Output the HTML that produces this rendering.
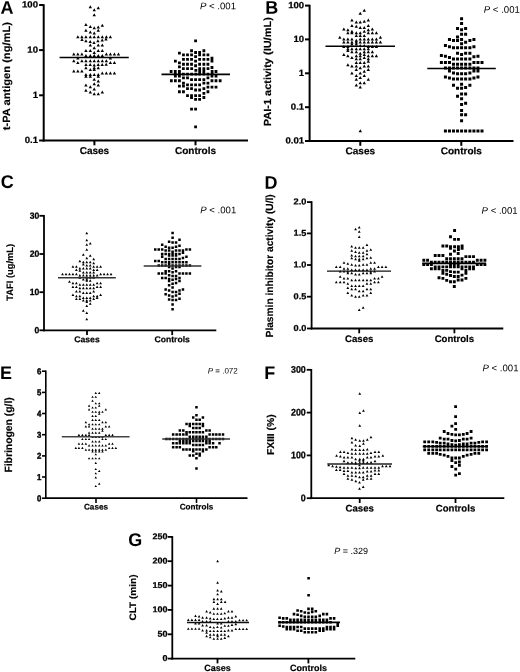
<!DOCTYPE html><html><head><meta charset="utf-8"><title>Figure</title><style>html,body{margin:0;padding:0;background:#fff;}body{width:520px;height:672px;overflow:hidden;}svg{display:block;font-family:"Liberation Sans", sans-serif;text-rendering:geometricPrecision;will-change:transform;}</style></head><body>
<svg width="520" height="672" viewBox="0 0 520 672">
<rect width="520" height="672" fill="#fff"/>
<g fill="#000">
<text transform="translate(0.50 13.65) rotate(0.05) scale(1 1.02)" font-size="18.0" font-weight="bold" font-style="normal" text-anchor="start">A</text>
<line x1="43.70" y1="4.20" x2="43.70" y2="141.50" stroke="#000" stroke-width="2.0"/>
<line x1="42.70" y1="140.50" x2="248.00" y2="140.50" stroke="#000" stroke-width="2.0"/>
<line x1="39.10" y1="5.00" x2="43.70" y2="5.00" stroke="#000" stroke-width="2.0"/>
<text transform="translate(38.00 7.59) rotate(0.05) scale(1 0.95)" font-size="9.6" font-weight="bold" font-style="normal" text-anchor="end" stroke="#000" stroke-width="0.25">100</text>
<line x1="39.10" y1="50.10" x2="43.70" y2="50.10" stroke="#000" stroke-width="2.0"/>
<text transform="translate(38.00 52.69) rotate(0.05) scale(1 0.95)" font-size="9.6" font-weight="bold" font-style="normal" text-anchor="end" stroke="#000" stroke-width="0.25">10</text>
<line x1="39.10" y1="95.30" x2="43.70" y2="95.30" stroke="#000" stroke-width="2.0"/>
<text transform="translate(38.00 97.89) rotate(0.05) scale(1 0.95)" font-size="9.6" font-weight="bold" font-style="normal" text-anchor="end" stroke="#000" stroke-width="0.25">1</text>
<line x1="39.10" y1="140.50" x2="43.70" y2="140.50" stroke="#000" stroke-width="2.0"/>
<text transform="translate(38.00 143.09) rotate(0.05) scale(1 0.95)" font-size="9.6" font-weight="bold" font-style="normal" text-anchor="end" stroke="#000" stroke-width="0.25">0.1</text>
<line x1="94.40" y1="140.50" x2="94.40" y2="145.30" stroke="#000" stroke-width="2.0"/>
<text transform="translate(94.40 154.00) rotate(0.05) scale(1 1.0)" font-size="10" font-weight="bold" font-style="normal" text-anchor="middle" stroke="#000" stroke-width="0.2">Cases</text>
<line x1="195.50" y1="140.50" x2="195.50" y2="145.30" stroke="#000" stroke-width="2.0"/>
<text transform="translate(195.50 154.00) rotate(0.05) scale(1 1.0)" font-size="10" font-weight="bold" font-style="normal" text-anchor="middle" stroke="#000" stroke-width="0.2">Controls</text>
<text x="9.80" y="76.15" font-size="10.5" font-weight="bold" font-style="normal" text-anchor="middle" transform="rotate(-90 9.80 76.15)" textLength="108.30" lengthAdjust="spacingAndGlyphs" stroke="#000" stroke-width="0.15">t-PA antigen (ng/mL)</text>
<text transform="translate(200.00 9.20) rotate(0.05) scale(1 1.0)" font-size="9.6" font-weight="normal"><tspan font-style="italic">P</tspan> &lt; .001</text>
<text transform="translate(265.30 13.65) rotate(0.05) scale(1 1.02)" font-size="18.0" font-weight="bold" font-style="normal" text-anchor="start">B</text>
<line x1="309.60" y1="4.80" x2="309.60" y2="142.00" stroke="#000" stroke-width="2.0"/>
<line x1="308.60" y1="141.00" x2="513.50" y2="141.00" stroke="#000" stroke-width="2.0"/>
<line x1="305.00" y1="5.60" x2="309.60" y2="5.60" stroke="#000" stroke-width="2.0"/>
<text transform="translate(304.20 8.19) rotate(0.05) scale(1 0.95)" font-size="9.6" font-weight="bold" font-style="normal" text-anchor="end" stroke="#000" stroke-width="0.25">100</text>
<line x1="305.00" y1="39.40" x2="309.60" y2="39.40" stroke="#000" stroke-width="2.0"/>
<text transform="translate(304.20 41.99) rotate(0.05) scale(1 0.95)" font-size="9.6" font-weight="bold" font-style="normal" text-anchor="end" stroke="#000" stroke-width="0.25">10</text>
<line x1="305.00" y1="73.30" x2="309.60" y2="73.30" stroke="#000" stroke-width="2.0"/>
<text transform="translate(304.20 75.89) rotate(0.05) scale(1 0.95)" font-size="9.6" font-weight="bold" font-style="normal" text-anchor="end" stroke="#000" stroke-width="0.25">1</text>
<line x1="305.00" y1="107.20" x2="309.60" y2="107.20" stroke="#000" stroke-width="2.0"/>
<text transform="translate(304.20 109.79) rotate(0.05) scale(1 0.95)" font-size="9.6" font-weight="bold" font-style="normal" text-anchor="end" stroke="#000" stroke-width="0.25">0.1</text>
<line x1="305.00" y1="141.00" x2="309.60" y2="141.00" stroke="#000" stroke-width="2.0"/>
<text transform="translate(304.20 143.59) rotate(0.05) scale(1 0.95)" font-size="9.6" font-weight="bold" font-style="normal" text-anchor="end" stroke="#000" stroke-width="0.25">0.01</text>
<line x1="360.30" y1="141.00" x2="360.30" y2="145.80" stroke="#000" stroke-width="2.0"/>
<text transform="translate(360.30 154.30) rotate(0.05) scale(1 1.0)" font-size="10" font-weight="bold" font-style="normal" text-anchor="middle" stroke="#000" stroke-width="0.2">Cases</text>
<line x1="461.30" y1="141.00" x2="461.30" y2="145.80" stroke="#000" stroke-width="2.0"/>
<text transform="translate(461.30 154.30) rotate(0.05) scale(1 1.0)" font-size="10" font-weight="bold" font-style="normal" text-anchor="middle" stroke="#000" stroke-width="0.2">Controls</text>
<text x="271.30" y="71.70" font-size="10.3" font-weight="bold" font-style="normal" text-anchor="middle" transform="rotate(-90 271.30 71.70)" textLength="109.00" lengthAdjust="spacingAndGlyphs" stroke="#000" stroke-width="0.15">PAI-1 activity (IU/mL)</text>
<text transform="translate(483.80 12.70) rotate(0.05) scale(1 1.0)" font-size="9.6" font-weight="normal"><tspan font-style="italic">P</tspan> &lt; .001</text>
<text transform="translate(0.80 187.95) rotate(0.05) scale(1 1.02)" font-size="18.0" font-weight="bold" font-style="normal" text-anchor="start">C</text>
<line x1="44.00" y1="215.00" x2="44.00" y2="331.20" stroke="#000" stroke-width="1.8"/>
<line x1="43.10" y1="330.30" x2="216.30" y2="330.30" stroke="#000" stroke-width="1.8"/>
<line x1="39.40" y1="215.80" x2="44.00" y2="215.80" stroke="#000" stroke-width="1.8"/>
<text transform="translate(39.30 218.64) rotate(0.05) scale(1 1.05)" font-size="8.6" font-weight="bold" font-style="normal" text-anchor="end" stroke="#000" stroke-width="0.25">30</text>
<line x1="39.40" y1="254.00" x2="44.00" y2="254.00" stroke="#000" stroke-width="1.8"/>
<text transform="translate(39.30 256.84) rotate(0.05) scale(1 1.05)" font-size="8.6" font-weight="bold" font-style="normal" text-anchor="end" stroke="#000" stroke-width="0.25">20</text>
<line x1="39.40" y1="292.20" x2="44.00" y2="292.20" stroke="#000" stroke-width="1.8"/>
<text transform="translate(39.30 295.04) rotate(0.05) scale(1 1.05)" font-size="8.6" font-weight="bold" font-style="normal" text-anchor="end" stroke="#000" stroke-width="0.25">10</text>
<line x1="39.40" y1="330.30" x2="44.00" y2="330.30" stroke="#000" stroke-width="1.8"/>
<text transform="translate(39.30 333.14) rotate(0.05) scale(1 1.05)" font-size="8.6" font-weight="bold" font-style="normal" text-anchor="end" stroke="#000" stroke-width="0.25">0</text>
<line x1="87.00" y1="330.30" x2="87.00" y2="335.10" stroke="#000" stroke-width="1.8"/>
<text transform="translate(87.00 342.20) rotate(0.05) scale(1 1.0)" font-size="8.6" font-weight="bold" font-style="normal" text-anchor="middle" stroke="#000" stroke-width="0.2">Cases</text>
<line x1="172.20" y1="330.30" x2="172.20" y2="335.10" stroke="#000" stroke-width="1.8"/>
<text transform="translate(172.20 342.20) rotate(0.05) scale(1 1.0)" font-size="8.6" font-weight="bold" font-style="normal" text-anchor="middle" stroke="#000" stroke-width="0.2">Controls</text>
<text x="13.20" y="272.30" font-size="9.3" font-weight="bold" font-style="normal" text-anchor="middle" transform="rotate(-90 13.20 272.30)" textLength="56.80" lengthAdjust="spacingAndGlyphs" stroke="#000" stroke-width="0.15">TAFI (ug/mL)</text>
<text transform="translate(200.20 213.20) rotate(0.05) scale(1 1.0)" font-size="9.6" font-weight="normal"><tspan font-style="italic">P</tspan> &lt; .001</text>
<text transform="translate(264.40 188.65) rotate(0.05) scale(1 1.02)" font-size="18.0" font-weight="bold" font-style="normal" text-anchor="start">D</text>
<line x1="311.60" y1="201.20" x2="311.60" y2="329.40" stroke="#000" stroke-width="1.8"/>
<line x1="310.70" y1="328.50" x2="503.30" y2="328.50" stroke="#000" stroke-width="1.8"/>
<line x1="307.00" y1="202.10" x2="311.60" y2="202.10" stroke="#000" stroke-width="1.8"/>
<text transform="translate(306.30 204.58) rotate(0.05) scale(1 0.95)" font-size="9.2" font-weight="bold" font-style="normal" text-anchor="end" stroke="#000" stroke-width="0.25">2.0</text>
<line x1="307.00" y1="233.40" x2="311.60" y2="233.40" stroke="#000" stroke-width="1.8"/>
<text transform="translate(306.30 235.88) rotate(0.05) scale(1 0.95)" font-size="9.2" font-weight="bold" font-style="normal" text-anchor="end" stroke="#000" stroke-width="0.25">1.5</text>
<line x1="307.00" y1="265.00" x2="311.60" y2="265.00" stroke="#000" stroke-width="1.8"/>
<text transform="translate(306.30 267.48) rotate(0.05) scale(1 0.95)" font-size="9.2" font-weight="bold" font-style="normal" text-anchor="end" stroke="#000" stroke-width="0.25">1.0</text>
<line x1="307.00" y1="296.70" x2="311.60" y2="296.70" stroke="#000" stroke-width="1.8"/>
<text transform="translate(306.30 299.18) rotate(0.05) scale(1 0.95)" font-size="9.2" font-weight="bold" font-style="normal" text-anchor="end" stroke="#000" stroke-width="0.25">0.5</text>
<line x1="307.00" y1="328.50" x2="311.60" y2="328.50" stroke="#000" stroke-width="1.8"/>
<text transform="translate(306.30 330.98) rotate(0.05) scale(1 0.95)" font-size="9.2" font-weight="bold" font-style="normal" text-anchor="end" stroke="#000" stroke-width="0.25">0.0</text>
<line x1="359.20" y1="328.50" x2="359.20" y2="333.30" stroke="#000" stroke-width="1.8"/>
<text transform="translate(359.20 341.90) rotate(0.05) scale(1 1.0)" font-size="9.6" font-weight="bold" font-style="normal" text-anchor="middle" stroke="#000" stroke-width="0.2">Cases</text>
<line x1="454.40" y1="328.50" x2="454.40" y2="333.30" stroke="#000" stroke-width="1.8"/>
<text transform="translate(454.40 341.90) rotate(0.05) scale(1 1.0)" font-size="9.6" font-weight="bold" font-style="normal" text-anchor="middle" stroke="#000" stroke-width="0.2">Controls</text>
<text x="272.70" y="265.85" font-size="10.3" font-weight="bold" font-style="normal" text-anchor="middle" transform="rotate(-90 272.70 265.85)" textLength="143.10" lengthAdjust="spacingAndGlyphs" stroke="#000" stroke-width="0.15">Plasmin inhibitor activity (U/l)</text>
<text transform="translate(481.60 213.80) rotate(0.05) scale(1 1.0)" font-size="9.6" font-weight="normal"><tspan font-style="italic">P</tspan> &lt; .001</text>
<text transform="translate(-0.10 378.95) rotate(0.05) scale(1 1.02)" font-size="18.0" font-weight="bold" font-style="normal" text-anchor="start">E</text>
<line x1="45.80" y1="370.60" x2="45.80" y2="498.90" stroke="#000" stroke-width="1.6"/>
<line x1="45.00" y1="498.10" x2="247.50" y2="498.10" stroke="#000" stroke-width="1.6"/>
<line x1="42.00" y1="371.20" x2="45.80" y2="371.20" stroke="#000" stroke-width="1.6"/>
<text transform="translate(41.40 374.16) rotate(0.05) scale(1 1.1)" font-size="7.8" font-weight="bold" font-style="normal" text-anchor="end" stroke="#000" stroke-width="0.4">6</text>
<line x1="42.00" y1="392.40" x2="45.80" y2="392.40" stroke="#000" stroke-width="1.6"/>
<text transform="translate(41.40 395.36) rotate(0.05) scale(1 1.1)" font-size="7.8" font-weight="bold" font-style="normal" text-anchor="end" stroke="#000" stroke-width="0.4">5</text>
<line x1="42.00" y1="413.50" x2="45.80" y2="413.50" stroke="#000" stroke-width="1.6"/>
<text transform="translate(41.40 416.46) rotate(0.05) scale(1 1.1)" font-size="7.8" font-weight="bold" font-style="normal" text-anchor="end" stroke="#000" stroke-width="0.4">4</text>
<line x1="42.00" y1="434.70" x2="45.80" y2="434.70" stroke="#000" stroke-width="1.6"/>
<text transform="translate(41.40 437.66) rotate(0.05) scale(1 1.1)" font-size="7.8" font-weight="bold" font-style="normal" text-anchor="end" stroke="#000" stroke-width="0.4">3</text>
<line x1="42.00" y1="455.90" x2="45.80" y2="455.90" stroke="#000" stroke-width="1.6"/>
<text transform="translate(41.40 458.86) rotate(0.05) scale(1 1.1)" font-size="7.8" font-weight="bold" font-style="normal" text-anchor="end" stroke="#000" stroke-width="0.4">2</text>
<line x1="42.00" y1="477.00" x2="45.80" y2="477.00" stroke="#000" stroke-width="1.6"/>
<text transform="translate(41.40 479.96) rotate(0.05) scale(1 1.1)" font-size="7.8" font-weight="bold" font-style="normal" text-anchor="end" stroke="#000" stroke-width="0.4">1</text>
<line x1="42.00" y1="498.20" x2="45.80" y2="498.20" stroke="#000" stroke-width="1.6"/>
<text transform="translate(41.40 501.16) rotate(0.05) scale(1 1.1)" font-size="7.8" font-weight="bold" font-style="normal" text-anchor="end" stroke="#000" stroke-width="0.4">0</text>
<line x1="96.00" y1="498.10" x2="96.00" y2="502.90" stroke="#000" stroke-width="1.6"/>
<text transform="translate(96.00 509.40) rotate(0.05) scale(1 1.0)" font-size="8.2" font-weight="bold" font-style="normal" text-anchor="middle" stroke="#000" stroke-width="0.2">Cases</text>
<line x1="196.50" y1="498.10" x2="196.50" y2="502.90" stroke="#000" stroke-width="1.6"/>
<text transform="translate(196.50 509.40) rotate(0.05) scale(1 1.0)" font-size="8.2" font-weight="bold" font-style="normal" text-anchor="middle" stroke="#000" stroke-width="0.2">Controls</text>
<text x="11.80" y="434.90" font-size="10.5" font-weight="bold" font-style="normal" text-anchor="middle" transform="rotate(-90 11.80 434.90)" textLength="75.40" lengthAdjust="spacingAndGlyphs" stroke="#000" stroke-width="0.15">Fibrinogen (g/l)</text>
<text transform="translate(207.70 373.40) rotate(0.05) scale(1 1.0)" font-size="8.0" font-weight="normal"><tspan font-style="italic">P</tspan> = .072</text>
<text transform="translate(264.20 378.95) rotate(0.05) scale(1 1.02)" font-size="18.0" font-weight="bold" font-style="normal" text-anchor="start">F</text>
<line x1="311.30" y1="369.00" x2="311.30" y2="499.10" stroke="#000" stroke-width="1.8"/>
<line x1="310.40" y1="498.20" x2="504.30" y2="498.20" stroke="#000" stroke-width="1.8"/>
<line x1="306.70" y1="369.80" x2="311.30" y2="369.80" stroke="#000" stroke-width="1.8"/>
<text transform="translate(305.80 372.74) rotate(0.05) scale(1 1.08)" font-size="8.9" font-weight="bold" font-style="normal" text-anchor="end" stroke="#000" stroke-width="0.25">300</text>
<line x1="306.70" y1="412.60" x2="311.30" y2="412.60" stroke="#000" stroke-width="1.8"/>
<text transform="translate(305.80 415.54) rotate(0.05) scale(1 1.08)" font-size="8.9" font-weight="bold" font-style="normal" text-anchor="end" stroke="#000" stroke-width="0.25">200</text>
<line x1="306.70" y1="455.40" x2="311.30" y2="455.40" stroke="#000" stroke-width="1.8"/>
<text transform="translate(305.80 458.34) rotate(0.05) scale(1 1.08)" font-size="8.9" font-weight="bold" font-style="normal" text-anchor="end" stroke="#000" stroke-width="0.25">100</text>
<line x1="306.70" y1="498.20" x2="311.30" y2="498.20" stroke="#000" stroke-width="1.8"/>
<text transform="translate(305.80 501.14) rotate(0.05) scale(1 1.08)" font-size="8.9" font-weight="bold" font-style="normal" text-anchor="end" stroke="#000" stroke-width="0.25">0</text>
<line x1="359.70" y1="498.20" x2="359.70" y2="503.00" stroke="#000" stroke-width="1.8"/>
<text transform="translate(359.70 511.50) rotate(0.05) scale(1 1.0)" font-size="9.6" font-weight="bold" font-style="normal" text-anchor="middle" stroke="#000" stroke-width="0.2">Cases</text>
<line x1="455.50" y1="498.20" x2="455.50" y2="503.00" stroke="#000" stroke-width="1.8"/>
<text transform="translate(455.50 511.50) rotate(0.05) scale(1 1.0)" font-size="9.6" font-weight="bold" font-style="normal" text-anchor="middle" stroke="#000" stroke-width="0.2">Controls</text>
<text x="273.60" y="434.70" font-size="10.0" font-weight="bold" font-style="normal" text-anchor="middle" transform="rotate(-90 273.60 434.70)" textLength="40.60" lengthAdjust="spacingAndGlyphs" stroke="#000" stroke-width="0.15">FXIII (%)</text>
<text transform="translate(482.50 371.20) rotate(0.05) scale(1 1.0)" font-size="9.6" font-weight="normal"><tspan font-style="italic">P</tspan> &lt; .001</text>
<text transform="translate(128.30 545.95) rotate(0.05) scale(1 1.02)" font-size="18.0" font-weight="bold" font-style="normal" text-anchor="start">G</text>
<line x1="172.30" y1="536.10" x2="172.30" y2="659.50" stroke="#000" stroke-width="1.8"/>
<line x1="171.40" y1="658.60" x2="355.30" y2="658.60" stroke="#000" stroke-width="1.8"/>
<line x1="167.70" y1="536.90" x2="172.30" y2="536.90" stroke="#000" stroke-width="1.8"/>
<text transform="translate(167.50 539.33) rotate(0.05) scale(1 0.95)" font-size="9.0" font-weight="bold" font-style="normal" text-anchor="end" stroke="#000" stroke-width="0.25">250</text>
<line x1="167.70" y1="561.20" x2="172.30" y2="561.20" stroke="#000" stroke-width="1.8"/>
<text transform="translate(167.50 563.63) rotate(0.05) scale(1 0.95)" font-size="9.0" font-weight="bold" font-style="normal" text-anchor="end" stroke="#000" stroke-width="0.25">200</text>
<line x1="167.70" y1="585.60" x2="172.30" y2="585.60" stroke="#000" stroke-width="1.8"/>
<text transform="translate(167.50 588.03) rotate(0.05) scale(1 0.95)" font-size="9.0" font-weight="bold" font-style="normal" text-anchor="end" stroke="#000" stroke-width="0.25">150</text>
<line x1="167.70" y1="609.90" x2="172.30" y2="609.90" stroke="#000" stroke-width="1.8"/>
<text transform="translate(167.50 612.33) rotate(0.05) scale(1 0.95)" font-size="9.0" font-weight="bold" font-style="normal" text-anchor="end" stroke="#000" stroke-width="0.25">100</text>
<line x1="167.70" y1="634.30" x2="172.30" y2="634.30" stroke="#000" stroke-width="1.8"/>
<text transform="translate(167.50 636.73) rotate(0.05) scale(1 0.95)" font-size="9.0" font-weight="bold" font-style="normal" text-anchor="end" stroke="#000" stroke-width="0.25">50</text>
<line x1="167.70" y1="658.60" x2="172.30" y2="658.60" stroke="#000" stroke-width="1.8"/>
<text transform="translate(167.50 661.03) rotate(0.05) scale(1 0.95)" font-size="9.0" font-weight="bold" font-style="normal" text-anchor="end" stroke="#000" stroke-width="0.25">0</text>
<line x1="217.50" y1="658.60" x2="217.50" y2="663.40" stroke="#000" stroke-width="1.8"/>
<text transform="translate(217.50 670.90) rotate(0.05) scale(1 1.0)" font-size="9.0" font-weight="bold" font-style="normal" text-anchor="middle" stroke="#000" stroke-width="0.2">Cases</text>
<line x1="308.40" y1="658.60" x2="308.40" y2="663.40" stroke="#000" stroke-width="1.8"/>
<text transform="translate(308.40 670.90) rotate(0.05) scale(1 1.0)" font-size="9.0" font-weight="bold" font-style="normal" text-anchor="middle" stroke="#000" stroke-width="0.2">Controls</text>
<text x="135.80" y="597.50" font-size="9.4" font-weight="bold" font-style="normal" text-anchor="middle" transform="rotate(-90 135.80 597.50)" textLength="46.20" lengthAdjust="spacingAndGlyphs" stroke="#000" stroke-width="0.15">CLT (min)</text>
<text transform="translate(334.20 553.90) rotate(0.05) scale(1 1.0)" font-size="9.0" font-weight="normal"><tspan font-style="italic">P</tspan> = .329</text>
</g>
<path d="M88.61 8.19L90.31 5.19L92.01 8.19ZM96.57 9.35L98.27 6.35L99.97 9.35ZM92.53 11.31L94.23 8.31L95.93 11.31ZM92.53 16.27L94.23 13.27L95.93 16.27ZM84.22 25.96L85.92 22.96L87.62 25.96ZM100.61 26.65L102.31 23.65L104.01 26.65ZM88.61 28.04L90.31 25.04L92.01 28.04ZM92.53 29.19L94.23 26.19L95.93 29.19ZM96.57 28.62L98.27 25.62L99.97 28.62ZM84.22 31.73L85.92 28.73L87.62 31.73ZM96.57 31.73L98.27 28.73L99.97 31.73ZM88.61 33.58L90.31 30.58L92.01 33.58ZM92.53 34.62L94.23 31.62L95.93 34.62ZM76.15 38.19L77.85 35.19L79.55 38.19ZM80.18 38.19L81.88 35.19L83.58 38.19ZM84.22 38.19L85.92 35.19L87.62 38.19ZM88.61 38.19L90.31 35.19L92.01 38.19ZM92.53 38.19L94.23 35.19L95.93 38.19ZM96.57 38.19L98.27 35.19L99.97 38.19ZM100.61 38.19L102.31 35.19L104.01 38.19ZM104.65 38.19L106.35 35.19L108.05 38.19ZM108.68 38.19L110.38 35.19L112.08 38.19ZM80.30 41.10L82.00 38.10L83.70 41.10ZM84.20 42.30L85.90 39.30L87.60 42.30ZM88.50 43.00L90.20 40.00L91.90 43.00ZM92.30 44.00L94.00 41.00L95.70 44.00ZM96.20 42.30L97.90 39.30L99.60 42.30ZM100.50 41.60L102.20 38.60L103.90 41.60ZM104.30 40.60L106.00 37.60L107.70 40.60ZM88.61 46.50L90.31 43.50L92.01 46.50ZM96.57 46.50L98.27 43.50L99.97 46.50ZM100.61 46.50L102.31 43.50L104.01 46.50ZM92.53 49.15L94.23 46.15L95.93 49.15ZM84.22 51.88L85.92 48.88L87.62 51.88ZM88.61 51.88L90.31 48.88L92.01 51.88ZM96.57 51.88L98.27 48.88L99.97 51.88ZM100.61 51.88L102.31 48.88L104.01 51.88ZM92.53 53.96L94.23 50.96L95.93 53.96ZM72.11 55.58L73.81 52.58L75.51 55.58ZM76.15 55.58L77.85 52.58L79.55 55.58ZM80.18 55.58L81.88 52.58L83.58 55.58ZM104.65 55.58L106.35 52.58L108.05 55.58ZM108.68 55.58L110.38 52.58L112.08 55.58ZM112.72 55.58L114.42 52.58L116.12 55.58ZM116.76 55.58L118.46 52.58L120.16 55.58ZM84.22 57.08L85.92 54.08L87.62 57.08ZM88.61 57.08L90.31 54.08L92.01 57.08ZM92.53 57.08L94.23 54.08L95.93 57.08ZM96.57 57.08L98.27 54.08L99.97 57.08ZM100.61 57.08L102.31 54.08L104.01 57.08ZM76.15 59.38L77.85 56.38L79.55 59.38ZM108.68 59.38L110.38 56.38L112.08 59.38ZM72.11 62.27L73.81 59.27L75.51 62.27ZM80.18 62.27L81.88 59.27L83.58 62.27ZM84.22 62.27L85.92 59.27L87.62 62.27ZM88.61 62.27L90.31 59.27L92.01 62.27ZM92.53 62.27L94.23 59.27L95.93 62.27ZM96.57 62.27L98.27 59.27L99.97 62.27ZM100.61 62.27L102.31 59.27L104.01 62.27ZM104.65 62.27L106.35 59.27L108.05 62.27ZM76.15 64.00L77.85 61.00L79.55 64.00ZM108.68 64.00L110.38 61.00L112.08 64.00ZM112.72 64.00L114.42 61.00L116.12 64.00ZM84.30 66.10L86.00 63.10L87.70 66.10ZM88.50 66.10L90.20 63.10L91.90 66.10ZM92.50 66.40L94.20 63.40L95.90 66.40ZM96.50 66.10L98.20 63.10L99.90 66.10ZM100.50 66.10L102.20 63.10L103.90 66.10ZM104.50 65.80L106.20 62.80L107.90 65.80ZM84.22 69.19L85.92 66.19L87.62 69.19ZM92.53 69.19L94.23 66.19L95.93 69.19ZM96.57 69.19L98.27 66.19L99.97 69.19ZM88.61 70.92L90.31 67.92L92.01 70.92ZM92.53 70.92L94.23 67.92L95.93 70.92ZM72.11 72.42L73.81 69.42L75.51 72.42ZM76.15 72.42L77.85 69.42L79.55 72.42ZM80.18 72.42L81.88 69.42L83.58 72.42ZM100.61 74.38L102.31 71.38L104.01 74.38ZM104.65 74.38L106.35 71.38L108.05 74.38ZM108.68 74.38L110.38 71.38L112.08 74.38ZM112.72 74.38L114.42 71.38L116.12 74.38ZM84.22 76.12L85.92 73.12L87.62 76.12ZM88.61 76.12L90.31 73.12L92.01 76.12ZM92.53 76.12L94.23 73.12L95.93 76.12ZM96.57 76.12L98.27 73.12L99.97 76.12ZM84.22 77.85L85.92 74.85L87.62 77.85ZM88.61 77.85L90.31 74.85L92.01 77.85ZM96.57 77.85L98.27 74.85L99.97 77.85ZM92.53 80.73L94.23 77.73L95.93 80.73ZM96.57 82.46L98.27 79.46L99.97 82.46ZM92.53 85.35L94.23 82.35L95.93 85.35ZM84.22 86.50L85.92 83.50L87.62 86.50ZM96.57 86.50L98.27 83.50L99.97 86.50ZM88.61 88.23L90.31 85.23L92.01 88.23ZM92.53 90.54L94.23 87.54L95.93 90.54ZM84.22 91.69L85.92 88.69L87.62 91.69ZM88.61 93.42L90.31 90.42L92.01 93.42ZM100.61 93.42L102.31 90.42L104.01 93.42ZM92.53 95.15L94.23 92.15L95.93 95.15ZM96.57 95.15L98.27 92.15L99.97 95.15Z" fill="#000"/>
<line x1="59.60" y1="57.50" x2="128.80" y2="57.50" stroke="#000" stroke-width="1.7"/>
<path d="M194.18 39.56h2.80v2.80h-2.80ZM190.14 49.37h2.80v2.80h-2.80ZM202.48 49.37h2.80v2.80h-2.80ZM194.18 51.10h2.80v2.80h-2.80ZM198.22 51.10h2.80v2.80h-2.80ZM178.02 51.68h2.80v2.80h-2.80ZM182.06 53.41h2.80v2.80h-2.80ZM186.10 53.41h2.80v2.80h-2.80ZM190.14 53.41h2.80v2.80h-2.80ZM198.22 53.41h2.80v2.80h-2.80ZM202.48 53.41h2.80v2.80h-2.80ZM206.52 53.41h2.80v2.80h-2.80ZM194.18 55.14h2.80v2.80h-2.80ZM210.56 56.87h2.80v2.80h-2.80ZM182.06 58.02h2.80v2.80h-2.80ZM186.10 58.02h2.80v2.80h-2.80ZM190.14 58.02h2.80v2.80h-2.80ZM198.22 58.02h2.80v2.80h-2.80ZM202.48 58.02h2.80v2.80h-2.80ZM206.52 58.02h2.80v2.80h-2.80ZM173.98 59.75h2.80v2.80h-2.80ZM194.18 59.75h2.80v2.80h-2.80ZM210.56 59.75h2.80v2.80h-2.80ZM178.02 61.48h2.80v2.80h-2.80ZM182.06 62.87h2.80v2.80h-2.80ZM186.10 62.87h2.80v2.80h-2.80ZM190.14 62.87h2.80v2.80h-2.80ZM198.22 62.87h2.80v2.80h-2.80ZM202.48 62.87h2.80v2.80h-2.80ZM206.52 62.87h2.80v2.80h-2.80ZM194.18 64.37h2.80v2.80h-2.80ZM178.02 65.52h2.80v2.80h-2.80ZM210.56 66.10h2.80v2.80h-2.80ZM181.97 67.19h2.80v2.80h-2.80ZM186.12 67.19h2.80v2.80h-2.80ZM190.28 67.19h2.80v2.80h-2.80ZM198.27 67.19h2.80v2.80h-2.80ZM202.43 67.19h2.80v2.80h-2.80ZM206.58 67.19h2.80v2.80h-2.80ZM194.43 69.06h2.80v2.80h-2.80ZM169.72 70.10h2.80v2.80h-2.80ZM173.87 70.10h2.80v2.80h-2.80ZM178.02 70.10h2.80v2.80h-2.80ZM198.27 70.10h2.80v2.80h-2.80ZM202.43 70.10h2.80v2.80h-2.80ZM210.73 70.10h2.80v2.80h-2.80ZM214.58 70.10h2.80v2.80h-2.80ZM173.87 72.70h2.80v2.80h-2.80ZM178.02 72.70h2.80v2.80h-2.80ZM181.97 72.70h2.80v2.80h-2.80ZM186.12 72.70h2.80v2.80h-2.80ZM190.28 72.70h2.80v2.80h-2.80ZM194.43 72.70h2.80v2.80h-2.80ZM198.27 72.70h2.80v2.80h-2.80ZM202.43 72.70h2.80v2.80h-2.80ZM206.58 72.70h2.80v2.80h-2.80ZM210.73 72.70h2.80v2.80h-2.80ZM173.98 74.75h2.80v2.80h-2.80ZM178.02 74.75h2.80v2.80h-2.80ZM210.56 74.75h2.80v2.80h-2.80ZM214.60 74.75h2.80v2.80h-2.80ZM182.06 76.48h2.80v2.80h-2.80ZM186.10 76.48h2.80v2.80h-2.80ZM206.52 76.48h2.80v2.80h-2.80ZM190.14 78.22h2.80v2.80h-2.80ZM194.18 78.22h2.80v2.80h-2.80ZM198.22 78.22h2.80v2.80h-2.80ZM202.48 78.22h2.80v2.80h-2.80ZM169.95 79.37h2.80v2.80h-2.80ZM173.98 79.37h2.80v2.80h-2.80ZM178.02 79.37h2.80v2.80h-2.80ZM210.56 79.37h2.80v2.80h-2.80ZM214.60 79.37h2.80v2.80h-2.80ZM218.75 79.37h2.80v2.80h-2.80ZM182.06 81.68h2.80v2.80h-2.80ZM202.48 81.68h2.80v2.80h-2.80ZM206.52 81.68h2.80v2.80h-2.80ZM186.10 83.41h2.80v2.80h-2.80ZM190.14 83.41h2.80v2.80h-2.80ZM194.18 83.41h2.80v2.80h-2.80ZM198.22 83.41h2.80v2.80h-2.80ZM178.02 84.79h2.80v2.80h-2.80ZM182.06 84.79h2.80v2.80h-2.80ZM206.52 85.72h2.80v2.80h-2.80ZM210.56 85.72h2.80v2.80h-2.80ZM214.60 85.72h2.80v2.80h-2.80ZM186.10 87.22h2.80v2.80h-2.80ZM190.14 87.22h2.80v2.80h-2.80ZM202.48 87.22h2.80v2.80h-2.80ZM194.18 88.60h2.80v2.80h-2.80ZM198.22 88.60h2.80v2.80h-2.80ZM178.02 90.33h2.80v2.80h-2.80ZM182.06 90.33h2.80v2.80h-2.80ZM206.52 90.33h2.80v2.80h-2.80ZM202.48 92.06h2.80v2.80h-2.80ZM186.10 94.14h2.80v2.80h-2.80ZM190.14 94.14h2.80v2.80h-2.80ZM194.18 94.14h2.80v2.80h-2.80ZM198.22 94.14h2.80v2.80h-2.80ZM190.14 96.10h2.80v2.80h-2.80ZM202.48 96.10h2.80v2.80h-2.80ZM194.18 98.06h2.80v2.80h-2.80ZM198.22 98.06h2.80v2.80h-2.80ZM190.14 107.64h2.80v2.80h-2.80ZM194.18 107.64h2.80v2.80h-2.80ZM194.18 125.52h2.80v2.80h-2.80Z" fill="#000"/>
<line x1="161.50" y1="74.40" x2="230.00" y2="74.40" stroke="#000" stroke-width="1.7"/>
<path d="M362.57 11.69L364.27 8.69L365.97 11.69ZM358.53 14.81L360.23 11.81L361.93 14.81ZM350.22 21.50L351.92 18.50L353.62 21.50ZM366.61 21.50L368.31 18.50L370.01 21.50ZM362.57 22.65L364.27 19.65L365.97 22.65ZM354.61 23.58L356.31 20.58L358.01 23.58ZM358.53 23.58L360.23 20.58L361.93 23.58ZM350.22 27.04L351.92 24.04L353.62 27.04ZM366.61 27.04L368.31 24.04L370.01 27.04ZM354.61 27.85L356.31 24.85L358.01 27.85ZM358.53 29.00L360.23 26.00L361.93 29.00ZM362.57 29.00L364.27 26.00L365.97 29.00ZM342.15 30.50L343.85 27.50L345.55 30.50ZM370.65 30.50L372.35 27.50L374.05 30.50ZM346.18 31.31L347.88 28.31L349.58 31.31ZM366.61 31.31L368.31 28.31L370.01 31.31ZM350.22 32.81L351.92 29.81L353.62 32.81ZM362.57 32.81L364.27 29.81L365.97 32.81ZM346.18 34.19L347.88 31.19L349.58 34.19ZM350.22 34.19L351.92 31.19L353.62 34.19ZM354.61 34.19L356.31 31.19L358.01 34.19ZM358.53 34.19L360.23 31.19L361.93 34.19ZM366.61 34.19L368.31 31.19L370.01 34.19ZM370.65 34.19L372.35 31.19L374.05 34.19ZM374.68 34.19L376.38 31.19L378.08 34.19ZM354.61 37.08L356.31 34.08L358.01 37.08ZM358.53 37.08L360.23 34.08L361.93 37.08ZM362.57 37.08L364.27 34.08L365.97 37.08ZM338.11 38.81L339.81 35.81L341.51 38.81ZM378.72 38.81L380.42 35.81L382.12 38.81ZM342.15 40.54L343.85 37.54L345.55 40.54ZM346.18 40.54L347.88 37.54L349.58 40.54ZM350.22 40.54L351.92 37.54L353.62 40.54ZM358.53 40.54L360.23 37.54L361.93 40.54ZM362.57 40.54L364.27 37.54L365.97 40.54ZM366.61 40.54L368.31 37.54L370.01 40.54ZM370.65 40.54L372.35 37.54L374.05 40.54ZM374.68 40.54L376.38 37.54L378.08 40.54ZM354.61 41.69L356.31 38.69L358.01 41.69ZM342.15 43.42L343.85 40.42L345.55 43.42ZM346.18 43.42L347.88 40.42L349.58 43.42ZM350.22 43.42L351.92 40.42L353.62 43.42ZM354.61 43.42L356.31 40.42L358.01 43.42ZM358.53 43.42L360.23 40.42L361.93 43.42ZM362.57 43.42L364.27 40.42L365.97 43.42ZM366.61 43.42L368.31 40.42L370.01 43.42ZM370.65 43.42L372.35 40.42L374.05 43.42ZM374.68 43.42L376.38 40.42L378.08 43.42ZM378.72 43.42L380.42 40.42L382.12 43.42ZM350.22 45.50L351.92 42.50L353.62 45.50ZM354.61 45.50L356.31 42.50L358.01 45.50ZM358.53 47.12L360.23 44.12L361.93 47.12ZM362.57 47.12L364.27 44.12L365.97 47.12ZM342.15 48.04L343.85 45.04L345.55 48.04ZM346.18 48.04L347.88 45.04L349.58 48.04ZM366.61 48.04L368.31 45.04L370.01 48.04ZM370.65 48.04L372.35 45.04L374.05 48.04ZM374.68 48.04L376.38 45.04L378.08 48.04ZM346.18 50.35L347.88 47.35L349.58 50.35ZM350.22 50.35L351.92 47.35L353.62 50.35ZM354.61 50.35L356.31 47.35L358.01 50.35ZM358.53 50.35L360.23 47.35L361.93 50.35ZM362.57 50.35L364.27 47.35L365.97 50.35ZM366.61 50.35L368.31 47.35L370.01 50.35ZM346.18 52.08L347.88 49.08L349.58 52.08ZM350.22 53.23L351.92 50.23L353.62 53.23ZM354.61 53.23L356.31 50.23L358.01 53.23ZM362.57 53.23L364.27 50.23L365.97 53.23ZM366.61 53.23L368.31 50.23L370.01 53.23ZM370.65 53.23L372.35 50.23L374.05 53.23ZM358.53 54.73L360.23 51.73L361.93 54.73ZM342.15 56.12L343.85 53.12L345.55 56.12ZM362.57 56.12L364.27 53.12L365.97 56.12ZM346.18 57.27L347.88 54.27L349.58 57.27ZM354.61 57.27L356.31 54.27L358.01 57.27ZM358.53 57.27L360.23 54.27L361.93 57.27ZM366.61 57.27L368.31 54.27L370.01 57.27ZM370.65 57.27L372.35 54.27L374.05 57.27ZM374.68 57.27L376.38 54.27L378.08 57.27ZM350.22 59.00L351.92 56.00L353.62 59.00ZM362.57 59.00L364.27 56.00L365.97 59.00ZM354.61 60.15L356.31 57.15L358.01 60.15ZM358.53 60.15L360.23 57.15L361.93 60.15ZM366.61 60.15L368.31 57.15L370.01 60.15ZM366.61 62.85L368.31 59.85L370.01 62.85ZM354.61 64.00L356.31 61.00L358.01 64.00ZM358.53 64.00L360.23 61.00L361.93 64.00ZM362.57 64.00L364.27 61.00L365.97 64.00ZM346.18 66.31L347.88 63.31L349.58 66.31ZM350.22 67.46L351.92 64.46L353.62 67.46ZM354.61 67.46L356.31 64.46L358.01 67.46ZM362.57 67.46L364.27 64.46L365.97 67.46ZM366.61 67.46L368.31 64.46L370.01 67.46ZM358.53 69.19L360.23 66.19L361.93 69.19ZM354.61 70.92L356.31 67.92L358.01 70.92ZM366.61 70.92L368.31 67.92L370.01 70.92ZM362.57 72.65L364.27 69.65L365.97 72.65ZM350.22 74.38L351.92 71.38L353.62 74.38ZM358.53 74.38L360.23 71.38L361.93 74.38ZM354.61 77.04L356.31 74.04L358.01 77.04ZM362.57 77.04L364.27 74.04L365.97 77.04ZM358.53 79.00L360.23 76.00L361.93 79.00ZM354.61 80.73L356.31 77.73L358.01 80.73ZM366.61 80.73L368.31 77.73L370.01 80.73ZM358.53 84.19L360.23 81.19L361.93 84.19ZM362.57 84.19L364.27 81.19L365.97 84.19ZM354.61 86.50L356.31 83.50L358.01 86.50ZM358.53 88.58L360.23 85.58L361.93 88.58ZM358.60 132.30L360.30 129.30L362.00 132.30Z" fill="#000"/>
<line x1="325.50" y1="46.30" x2="395.00" y2="46.30" stroke="#000" stroke-width="1.6"/>
<path d="M460.08 17.15h3.00v3.00h-3.00ZM460.08 22.12h3.00v3.00h-3.00ZM456.04 26.96h3.00v3.00h-3.00ZM464.12 26.96h3.00v3.00h-3.00ZM460.08 28.35h3.00v3.00h-3.00ZM460.08 32.73h3.00v3.00h-3.00ZM464.12 32.73h3.00v3.00h-3.00ZM456.04 35.62h3.00v3.00h-3.00ZM447.96 37.92h3.00v3.00h-3.00ZM460.08 37.92h3.00v3.00h-3.00ZM472.42 37.92h3.00v3.00h-3.00ZM452.00 39.08h3.00v3.00h-3.00ZM456.04 39.08h3.00v3.00h-3.00ZM468.38 39.08h3.00v3.00h-3.00ZM464.12 40.81h3.00v3.00h-3.00ZM460.08 42.19h3.00v3.00h-3.00ZM443.92 44.04h3.00v3.00h-3.00ZM447.96 45.19h3.00v3.00h-3.00ZM472.42 45.19h3.00v3.00h-3.00ZM452.00 46.35h3.00v3.00h-3.00ZM456.04 46.35h3.00v3.00h-3.00ZM460.08 46.35h3.00v3.00h-3.00ZM464.12 46.35h3.00v3.00h-3.00ZM468.38 46.35h3.00v3.00h-3.00ZM456.04 51.77h3.00v3.00h-3.00ZM464.12 51.77h3.00v3.00h-3.00ZM468.38 51.77h3.00v3.00h-3.00ZM460.08 52.92h3.00v3.00h-3.00ZM439.88 54.08h3.00v3.00h-3.00ZM443.92 54.65h3.00v3.00h-3.00ZM476.46 54.65h3.00v3.00h-3.00ZM472.42 55.23h3.00v3.00h-3.00ZM447.96 56.04h3.00v3.00h-3.00ZM452.00 57.54h3.00v3.00h-3.00ZM456.04 57.54h3.00v3.00h-3.00ZM460.08 57.54h3.00v3.00h-3.00ZM464.12 57.54h3.00v3.00h-3.00ZM468.38 57.54h3.00v3.00h-3.00ZM439.88 61.00h3.00v3.00h-3.00ZM443.92 61.00h3.00v3.00h-3.00ZM447.96 61.00h3.00v3.00h-3.00ZM472.42 61.00h3.00v3.00h-3.00ZM476.46 61.00h3.00v3.00h-3.00ZM480.50 61.00h3.00v3.00h-3.00ZM452.00 62.73h3.00v3.00h-3.00ZM456.04 62.73h3.00v3.00h-3.00ZM460.08 62.73h3.00v3.00h-3.00ZM464.12 62.73h3.00v3.00h-3.00ZM468.38 62.73h3.00v3.00h-3.00ZM443.92 66.58h3.00v3.00h-3.00ZM447.96 66.58h3.00v3.00h-3.00ZM452.00 66.58h3.00v3.00h-3.00ZM456.04 66.58h3.00v3.00h-3.00ZM460.08 66.58h3.00v3.00h-3.00ZM464.12 66.58h3.00v3.00h-3.00ZM468.38 66.58h3.00v3.00h-3.00ZM472.42 66.58h3.00v3.00h-3.00ZM476.46 66.58h3.00v3.00h-3.00ZM447.96 69.46h3.00v3.00h-3.00ZM472.42 69.46h3.00v3.00h-3.00ZM476.46 69.46h3.00v3.00h-3.00ZM452.00 71.42h3.00v3.00h-3.00ZM468.38 71.42h3.00v3.00h-3.00ZM456.04 72.35h3.00v3.00h-3.00ZM460.08 72.35h3.00v3.00h-3.00ZM464.12 72.35h3.00v3.00h-3.00ZM443.92 75.58h3.00v3.00h-3.00ZM476.46 75.58h3.00v3.00h-3.00ZM447.96 76.38h3.00v3.00h-3.00ZM472.42 76.38h3.00v3.00h-3.00ZM452.00 77.54h3.00v3.00h-3.00ZM456.04 77.54h3.00v3.00h-3.00ZM460.08 77.54h3.00v3.00h-3.00ZM464.12 77.54h3.00v3.00h-3.00ZM468.38 77.54h3.00v3.00h-3.00ZM460.08 82.73h3.00v3.00h-3.00ZM452.00 83.65h3.00v3.00h-3.00ZM468.38 83.65h3.00v3.00h-3.00ZM464.12 85.96h3.00v3.00h-3.00ZM456.04 86.77h3.00v3.00h-3.00ZM460.08 86.77h3.00v3.00h-3.00ZM460.08 92.54h3.00v3.00h-3.00ZM464.12 92.54h3.00v3.00h-3.00ZM456.04 94.85h3.00v3.00h-3.00ZM460.08 97.15h3.00v3.00h-3.00ZM464.12 101.73h3.00v3.00h-3.00ZM460.08 102.88h3.00v3.00h-3.00ZM460.08 109.12h3.00v3.00h-3.00ZM460.08 113.27h3.00v3.00h-3.00ZM464.12 113.27h3.00v3.00h-3.00ZM460.08 119.27h3.00v3.00h-3.00ZM443.92 129.42h3.00v3.00h-3.00ZM447.96 129.42h3.00v3.00h-3.00ZM452.00 129.42h3.00v3.00h-3.00ZM456.04 129.42h3.00v3.00h-3.00ZM460.08 129.42h3.00v3.00h-3.00ZM464.12 129.42h3.00v3.00h-3.00ZM468.38 129.42h3.00v3.00h-3.00ZM472.42 129.42h3.00v3.00h-3.00ZM476.46 129.42h3.00v3.00h-3.00ZM480.50 129.42h3.00v3.00h-3.00Z" fill="#000"/>
<line x1="427.30" y1="68.50" x2="495.80" y2="68.50" stroke="#000" stroke-width="1.6"/>
<path d="M85.37 234.33L86.77 231.83L88.17 234.33ZM85.37 241.25L86.77 238.75L88.17 241.25ZM88.83 244.48L90.23 241.98L91.63 244.48ZM85.37 245.87L86.77 243.37L88.17 245.87ZM85.37 250.71L86.77 248.21L88.17 250.71ZM81.91 255.67L83.31 253.17L84.71 255.67ZM88.83 256.83L90.23 254.33L91.63 256.83ZM85.37 259.13L86.77 256.63L88.17 259.13ZM92.29 260.29L93.69 257.79L95.09 260.29ZM78.45 262.25L79.85 259.75L81.25 262.25ZM81.91 263.17L83.31 260.67L84.71 263.17ZM85.37 263.17L86.77 260.67L88.17 263.17ZM88.83 263.17L90.23 260.67L91.63 263.17ZM92.29 264.33L93.69 261.83L95.09 264.33ZM81.91 265.48L83.31 262.98L84.71 265.48ZM85.37 266.40L86.77 263.90L88.17 266.40ZM88.83 266.40L90.23 263.90L91.63 266.40ZM71.52 267.79L72.92 265.29L74.32 267.79ZM74.98 267.79L76.38 265.29L77.78 267.79ZM92.29 267.79L93.69 265.29L95.09 267.79ZM95.75 267.79L97.15 265.29L98.55 267.79ZM99.22 267.79L100.62 265.29L102.02 267.79ZM78.45 269.52L79.85 267.02L81.25 269.52ZM81.91 269.52L83.31 267.02L84.71 269.52ZM85.37 269.52L86.77 267.02L88.17 269.52ZM88.83 269.52L90.23 267.02L91.63 269.52ZM74.98 271.02L76.38 268.52L77.78 271.02ZM92.29 271.02L93.69 268.52L95.09 271.02ZM95.75 271.02L97.15 268.52L98.55 271.02ZM78.45 271.83L79.85 269.33L81.25 271.83ZM81.91 273.56L83.31 271.06L84.71 273.56ZM85.37 273.56L86.77 271.06L88.17 273.56ZM88.83 273.56L90.23 271.06L91.63 273.56ZM92.29 273.56L93.69 271.06L95.09 273.56ZM61.14 275.29L62.54 272.79L63.94 275.29ZM64.60 275.29L66.00 272.79L67.40 275.29ZM68.06 275.29L69.46 272.79L70.86 275.29ZM71.52 275.29L72.92 272.79L74.32 275.29ZM74.98 275.29L76.38 272.79L77.78 275.29ZM99.22 275.29L100.62 272.79L102.02 275.29ZM102.68 275.29L104.08 272.79L105.48 275.29ZM106.14 275.29L107.54 272.79L108.94 275.29ZM109.60 275.29L111.00 272.79L112.40 275.29ZM78.45 276.44L79.85 273.94L81.25 276.44ZM81.91 276.44L83.31 273.94L84.71 276.44ZM85.37 276.44L86.77 273.94L88.17 276.44ZM88.83 276.44L90.23 273.94L91.63 276.44ZM92.29 276.44L93.69 273.94L95.09 276.44ZM95.75 276.44L97.15 273.94L98.55 276.44ZM78.45 278.75L79.85 276.25L81.25 278.75ZM85.37 278.75L86.77 276.25L88.17 278.75ZM88.83 278.75L90.23 276.25L91.63 278.75ZM92.29 278.75L93.69 276.25L95.09 278.75ZM81.91 280.48L83.31 277.98L84.71 280.48ZM85.37 280.48L86.77 277.98L88.17 280.48ZM85.37 281.63L86.77 279.13L88.17 281.63ZM88.83 281.63L90.23 279.13L91.63 281.63ZM68.06 282.79L69.46 280.29L70.86 282.79ZM71.52 284.17L72.92 281.67L74.32 284.17ZM74.98 284.17L76.38 281.67L77.78 284.17ZM95.75 284.17L97.15 281.67L98.55 284.17ZM99.22 284.17L100.62 281.67L102.02 284.17ZM78.45 285.67L79.85 283.17L81.25 285.67ZM81.91 285.67L83.31 283.17L84.71 285.67ZM85.37 285.67L86.77 283.17L88.17 285.67ZM88.83 285.67L90.23 283.17L91.63 285.67ZM92.29 285.67L93.69 283.17L95.09 285.67ZM71.52 287.98L72.92 285.48L74.32 287.98ZM74.98 287.98L76.38 285.48L77.78 287.98ZM95.75 287.98L97.15 285.48L98.55 287.98ZM99.22 287.98L100.62 285.48L102.02 287.98ZM78.45 289.13L79.85 286.63L81.25 289.13ZM81.91 289.13L83.31 286.63L84.71 289.13ZM85.37 289.13L86.77 286.63L88.17 289.13ZM88.83 289.13L90.23 286.63L91.63 289.13ZM92.29 289.13L93.69 286.63L95.09 289.13ZM74.98 292.60L76.38 290.10L77.78 292.60ZM78.45 292.60L79.85 290.10L81.25 292.60ZM92.29 292.60L93.69 290.10L95.09 292.60ZM81.91 294.10L83.31 291.60L84.71 294.10ZM85.37 294.10L86.77 291.60L88.17 294.10ZM88.83 294.10L90.23 291.60L91.63 294.10ZM71.52 296.06L72.92 293.56L74.32 296.06ZM99.22 296.06L100.62 293.56L102.02 296.06ZM74.98 297.21L76.38 294.71L77.78 297.21ZM78.45 297.21L79.85 294.71L81.25 297.21ZM92.29 297.21L93.69 294.71L95.09 297.21ZM95.75 297.21L97.15 294.71L98.55 297.21ZM81.91 298.94L83.31 296.44L84.71 298.94ZM85.37 298.94L86.77 296.44L88.17 298.94ZM88.83 298.94L90.23 296.44L91.63 298.94ZM95.75 298.94L97.15 296.44L98.55 298.94ZM74.98 300.10L76.38 297.60L77.78 300.10ZM78.45 300.10L79.85 297.60L81.25 300.10ZM92.29 300.10L93.69 297.60L95.09 300.10ZM81.91 301.48L83.31 298.98L84.71 301.48ZM85.37 301.48L86.77 298.98L88.17 301.48ZM88.83 301.48L90.23 298.98L91.63 301.48ZM85.37 302.98L86.77 300.48L88.17 302.98ZM88.83 304.71L90.23 302.21L91.63 304.71ZM85.37 307.02L86.77 304.52L88.17 307.02ZM81.91 311.63L83.31 309.13L84.71 311.63ZM85.37 313.94L86.77 311.44L88.17 313.94ZM85.37 320.29L86.77 317.79L88.17 320.29Z" fill="#000"/>
<line x1="58.00" y1="277.80" x2="115.80" y2="277.80" stroke="#333" stroke-width="1.6"/>
<path d="M171.33 231.83h2.50v2.50h-2.50ZM171.33 236.44h2.50v2.50h-2.50ZM178.25 238.52h2.50v2.50h-2.50ZM167.87 240.48h2.50v2.50h-2.50ZM171.33 241.29h2.50v2.50h-2.50ZM174.79 241.29h2.50v2.50h-2.50ZM160.94 243.60h2.50v2.50h-2.50ZM178.25 244.52h2.50v2.50h-2.50ZM164.40 245.44h2.50v2.50h-2.50ZM174.79 245.44h2.50v2.50h-2.50ZM167.87 246.60h2.50v2.50h-2.50ZM171.33 246.60h2.50v2.50h-2.50ZM154.02 248.21h2.50v2.50h-2.50ZM157.48 248.21h2.50v2.50h-2.50ZM160.94 248.21h2.50v2.50h-2.50ZM185.17 248.21h2.50v2.50h-2.50ZM188.63 248.21h2.50v2.50h-2.50ZM164.40 249.37h2.50v2.50h-2.50ZM167.87 249.37h2.50v2.50h-2.50ZM174.79 249.37h2.50v2.50h-2.50ZM178.25 249.37h2.50v2.50h-2.50ZM181.71 249.37h2.50v2.50h-2.50ZM171.33 250.52h2.50v2.50h-2.50ZM181.71 251.44h2.50v2.50h-2.50ZM160.94 252.83h2.50v2.50h-2.50ZM164.40 252.83h2.50v2.50h-2.50ZM167.87 252.83h2.50v2.50h-2.50ZM171.33 252.83h2.50v2.50h-2.50ZM174.79 252.83h2.50v2.50h-2.50ZM178.25 252.83h2.50v2.50h-2.50ZM167.87 254.33h2.50v2.50h-2.50ZM171.33 254.33h2.50v2.50h-2.50ZM174.79 254.33h2.50v2.50h-2.50ZM160.94 255.48h2.50v2.50h-2.50ZM185.17 255.48h2.50v2.50h-2.50ZM181.71 256.63h2.50v2.50h-2.50ZM164.40 257.79h2.50v2.50h-2.50ZM167.87 257.79h2.50v2.50h-2.50ZM171.33 257.79h2.50v2.50h-2.50ZM174.79 257.79h2.50v2.50h-2.50ZM178.25 257.79h2.50v2.50h-2.50ZM154.02 259.75h2.50v2.50h-2.50ZM157.48 259.75h2.50v2.50h-2.50ZM160.94 260.90h2.50v2.50h-2.50ZM164.40 260.90h2.50v2.50h-2.50ZM167.87 260.90h2.50v2.50h-2.50ZM171.33 260.90h2.50v2.50h-2.50ZM174.79 260.90h2.50v2.50h-2.50ZM178.25 260.90h2.50v2.50h-2.50ZM181.71 260.90h2.50v2.50h-2.50ZM185.17 260.90h2.50v2.50h-2.50ZM167.87 262.40h2.50v2.50h-2.50ZM157.48 264.13h2.50v2.50h-2.50ZM160.94 264.13h2.50v2.50h-2.50ZM164.40 264.13h2.50v2.50h-2.50ZM167.87 264.13h2.50v2.50h-2.50ZM171.33 264.13h2.50v2.50h-2.50ZM174.79 264.13h2.50v2.50h-2.50ZM178.25 264.13h2.50v2.50h-2.50ZM181.71 264.13h2.50v2.50h-2.50ZM185.17 264.13h2.50v2.50h-2.50ZM188.63 264.13h2.50v2.50h-2.50ZM167.87 265.87h2.50v2.50h-2.50ZM174.79 265.87h2.50v2.50h-2.50ZM178.25 265.87h2.50v2.50h-2.50ZM171.33 267.37h2.50v2.50h-2.50ZM164.40 269.90h2.50v2.50h-2.50ZM167.87 269.90h2.50v2.50h-2.50ZM174.79 269.90h2.50v2.50h-2.50ZM171.33 271.06h2.50v2.50h-2.50ZM157.48 272.21h2.50v2.50h-2.50ZM160.94 272.21h2.50v2.50h-2.50ZM164.40 272.21h2.50v2.50h-2.50ZM178.25 272.21h2.50v2.50h-2.50ZM181.71 272.21h2.50v2.50h-2.50ZM185.17 272.21h2.50v2.50h-2.50ZM188.63 272.21h2.50v2.50h-2.50ZM167.87 273.94h2.50v2.50h-2.50ZM171.33 274.75h2.50v2.50h-2.50ZM174.79 274.75h2.50v2.50h-2.50ZM160.94 276.83h2.50v2.50h-2.50ZM164.40 276.83h2.50v2.50h-2.50ZM178.25 276.83h2.50v2.50h-2.50ZM167.87 277.75h2.50v2.50h-2.50ZM174.79 277.75h2.50v2.50h-2.50ZM171.33 278.56h2.50v2.50h-2.50ZM167.87 279.71h2.50v2.50h-2.50ZM178.25 279.71h2.50v2.50h-2.50ZM174.79 281.67h2.50v2.50h-2.50ZM171.33 282.60h2.50v2.50h-2.50ZM167.87 283.98h2.50v2.50h-2.50ZM171.33 286.29h2.50v2.50h-2.50ZM164.40 288.13h2.50v2.50h-2.50ZM181.71 288.13h2.50v2.50h-2.50ZM167.87 289.29h2.50v2.50h-2.50ZM178.25 289.29h2.50v2.50h-2.50ZM171.33 290.67h2.50v2.50h-2.50ZM174.79 290.67h2.50v2.50h-2.50ZM178.25 292.40h2.50v2.50h-2.50ZM164.40 292.98h2.50v2.50h-2.50ZM167.87 294.37h2.50v2.50h-2.50ZM174.79 294.37h2.50v2.50h-2.50ZM171.33 295.29h2.50v2.50h-2.50ZM178.25 297.60h2.50v2.50h-2.50ZM167.87 298.17h2.50v2.50h-2.50ZM171.33 298.75h2.50v2.50h-2.50ZM174.79 298.75h2.50v2.50h-2.50ZM171.33 303.13h2.50v2.50h-2.50ZM171.33 307.98h2.50v2.50h-2.50Z" fill="#000"/>
<line x1="143.70" y1="266.00" x2="201.40" y2="266.00" stroke="#333" stroke-width="1.6"/>
<path d="M357.83 228.40L359.23 225.90L360.63 228.40ZM354.14 230.25L355.54 227.75L356.94 230.25ZM357.83 232.79L359.23 230.29L360.63 232.79ZM357.83 237.98L359.23 235.48L360.63 237.98ZM365.56 246.06L366.96 243.56L368.36 246.06ZM350.33 247.56L351.73 245.06L353.13 247.56ZM354.14 248.71L355.54 246.21L356.94 248.71ZM357.83 248.71L359.23 246.21L360.63 248.71ZM361.75 248.71L363.15 246.21L364.55 248.71ZM369.37 250.67L370.77 248.17L372.17 250.67ZM350.33 251.83L351.73 249.33L353.13 251.83ZM365.56 251.83L366.96 249.33L368.36 251.83ZM354.14 252.98L355.54 250.48L356.94 252.98ZM357.83 253.79L359.23 251.29L360.63 253.79ZM361.75 253.79L363.15 251.29L364.55 253.79ZM365.56 255.29L366.96 252.79L368.36 255.29ZM350.33 256.44L351.73 253.94L353.13 256.44ZM354.14 257.25L355.54 254.75L356.94 257.25ZM357.83 257.25L359.23 254.75L360.63 257.25ZM361.75 257.25L363.15 254.75L364.55 257.25ZM369.37 258.75L370.77 256.25L372.17 258.75ZM350.33 259.33L351.73 256.83L353.13 259.33ZM365.56 259.33L366.96 256.83L368.36 259.33ZM354.14 260.25L355.54 257.75L356.94 260.25ZM357.83 260.25L359.23 257.75L360.63 260.25ZM361.75 260.25L363.15 257.75L364.55 260.25ZM357.83 261.87L359.23 259.37L360.63 261.87ZM342.60 263.71L344.00 261.21L345.40 263.71ZM369.37 263.71L370.77 261.21L372.17 263.71ZM373.18 263.71L374.58 261.21L375.98 263.71ZM346.41 264.87L347.81 262.37L349.21 264.87ZM350.33 265.67L351.73 263.17L353.13 265.67ZM361.75 265.67L363.15 263.17L364.55 265.67ZM365.56 265.67L366.96 263.17L368.36 265.67ZM354.14 266.60L355.54 264.10L356.94 266.60ZM357.83 266.60L359.23 264.10L360.63 266.60ZM334.87 267.98L336.27 265.48L337.67 267.98ZM338.79 267.98L340.19 265.48L341.59 267.98ZM376.98 267.98L378.38 265.48L379.78 267.98ZM380.68 267.98L382.08 265.48L383.48 267.98ZM384.48 267.98L385.88 265.48L387.28 267.98ZM342.60 269.71L344.00 267.21L345.40 269.71ZM346.41 269.71L347.81 267.21L349.21 269.71ZM369.37 269.71L370.77 267.21L372.17 269.71ZM373.18 269.71L374.58 267.21L375.98 269.71ZM350.33 271.10L351.73 268.60L353.13 271.10ZM354.14 271.10L355.54 268.60L356.94 271.10ZM357.83 271.10L359.23 268.60L360.63 271.10ZM361.75 271.10L363.15 268.60L364.55 271.10ZM365.56 271.10L366.96 268.60L368.36 271.10ZM338.79 272.60L340.19 270.10L341.59 272.60ZM342.60 272.60L344.00 270.10L345.40 272.60ZM346.41 272.60L347.81 270.10L349.21 272.60ZM369.37 272.60L370.77 270.10L372.17 272.60ZM373.18 272.60L374.58 270.10L375.98 272.60ZM346.41 274.33L347.81 271.83L349.21 274.33ZM350.33 274.33L351.73 271.83L353.13 274.33ZM361.75 274.33L363.15 271.83L364.55 274.33ZM365.56 274.33L366.96 271.83L368.36 274.33ZM369.37 274.33L370.77 271.83L372.17 274.33ZM354.14 275.48L355.54 272.98L356.94 275.48ZM357.83 275.48L359.23 272.98L360.63 275.48ZM338.79 277.79L340.19 275.29L341.59 277.79ZM380.68 277.79L382.08 275.29L383.48 277.79ZM342.60 279.52L344.00 277.02L345.40 279.52ZM346.41 279.52L347.81 277.02L349.21 279.52ZM373.18 279.52L374.58 277.02L375.98 279.52ZM376.98 279.52L378.38 277.02L379.78 279.52ZM350.33 281.25L351.73 278.75L353.13 281.25ZM354.14 281.25L355.54 278.75L356.94 281.25ZM357.83 281.25L359.23 278.75L360.63 281.25ZM361.75 281.25L363.15 278.75L364.55 281.25ZM365.56 281.25L366.96 278.75L368.36 281.25ZM369.37 281.25L370.77 278.75L372.17 281.25ZM334.87 283.33L336.27 280.83L337.67 283.33ZM338.79 283.33L340.19 280.83L341.59 283.33ZM342.60 283.33L344.00 280.83L345.40 283.33ZM373.18 283.33L374.58 280.83L375.98 283.33ZM376.98 283.33L378.38 280.83L379.78 283.33ZM346.41 284.71L347.81 282.21L349.21 284.71ZM365.56 284.71L366.96 282.21L368.36 284.71ZM369.37 284.71L370.77 282.21L372.17 284.71ZM350.33 287.02L351.73 284.52L353.13 287.02ZM354.14 287.02L355.54 284.52L356.94 287.02ZM357.83 287.02L359.23 284.52L360.63 287.02ZM361.75 287.02L363.15 284.52L364.55 287.02ZM346.41 289.10L347.81 286.60L349.21 289.10ZM350.33 290.25L351.73 287.75L353.13 290.25ZM354.14 290.25L355.54 287.75L356.94 290.25ZM365.56 290.25L366.96 287.75L368.36 290.25ZM369.37 290.25L370.77 287.75L372.17 290.25ZM357.83 292.21L359.23 289.71L360.63 292.21ZM361.75 292.21L363.15 289.71L364.55 292.21ZM346.41 293.94L347.81 291.44L349.21 293.94ZM369.37 293.94L370.77 291.44L372.17 293.94ZM350.33 296.48L351.73 293.98L353.13 296.48ZM361.75 296.48L363.15 293.98L364.55 296.48ZM365.56 296.48L366.96 293.98L368.36 296.48ZM354.14 297.63L355.54 295.13L356.94 297.63ZM357.83 297.63L359.23 295.13L360.63 297.63ZM361.75 308.71L363.15 306.21L364.55 308.71ZM357.83 311.02L359.23 308.52L360.63 311.02Z" fill="#000"/>
<line x1="327.00" y1="271.10" x2="391.00" y2="271.10" stroke="#111" stroke-width="1.4"/>
<path d="M453.15 229.05h2.90v2.90h-2.90ZM449.05 235.35h2.90v2.90h-2.90ZM453.15 237.95h2.90v2.90h-2.90ZM456.95 237.95h2.90v2.90h-2.90ZM441.45 244.55h2.90v2.90h-2.90ZM445.25 244.55h2.90v2.90h-2.90ZM460.65 244.55h2.90v2.90h-2.90ZM449.05 245.25h2.90v2.90h-2.90ZM453.15 245.25h2.90v2.90h-2.90ZM456.95 245.25h2.90v2.90h-2.90ZM449.05 246.85h2.90v2.90h-2.90ZM460.65 246.85h2.90v2.90h-2.90ZM456.95 248.15h2.90v2.90h-2.90ZM452.95 249.55h2.90v2.90h-2.90ZM456.75 252.05h2.90v2.90h-2.90ZM449.05 252.75h2.90v2.90h-2.90ZM433.75 254.05h2.90v2.90h-2.90ZM437.55 254.05h2.90v2.90h-2.90ZM441.45 254.05h2.90v2.90h-2.90ZM464.45 255.15h2.90v2.90h-2.90ZM468.25 255.15h2.90v2.90h-2.90ZM472.05 255.15h2.90v2.90h-2.90ZM445.25 257.25h2.90v2.90h-2.90ZM449.05 257.25h2.90v2.90h-2.90ZM452.85 257.25h2.90v2.90h-2.90ZM456.75 257.25h2.90v2.90h-2.90ZM460.55 257.25h2.90v2.90h-2.90ZM422.35 258.75h2.90v2.90h-2.90ZM426.15 258.75h2.90v2.90h-2.90ZM475.85 258.75h2.90v2.90h-2.90ZM479.65 258.75h2.90v2.90h-2.90ZM483.45 258.75h2.90v2.90h-2.90ZM429.95 260.85h2.90v2.90h-2.90ZM433.75 260.85h2.90v2.90h-2.90ZM437.55 260.85h2.90v2.90h-2.90ZM441.45 260.85h2.90v2.90h-2.90ZM445.25 260.85h2.90v2.90h-2.90ZM449.05 260.85h2.90v2.90h-2.90ZM452.95 260.85h2.90v2.90h-2.90ZM456.75 260.85h2.90v2.90h-2.90ZM460.55 260.85h2.90v2.90h-2.90ZM464.45 260.85h2.90v2.90h-2.90ZM468.25 260.85h2.90v2.90h-2.90ZM472.05 260.85h2.90v2.90h-2.90ZM422.35 263.15h2.90v2.90h-2.90ZM426.15 263.15h2.90v2.90h-2.90ZM429.95 263.15h2.90v2.90h-2.90ZM449.05 263.15h2.90v2.90h-2.90ZM452.85 263.15h2.90v2.90h-2.90ZM456.75 263.15h2.90v2.90h-2.90ZM475.85 263.15h2.90v2.90h-2.90ZM479.65 263.15h2.90v2.90h-2.90ZM483.45 263.15h2.90v2.90h-2.90ZM433.75 265.45h2.90v2.90h-2.90ZM437.55 265.45h2.90v2.90h-2.90ZM441.45 265.45h2.90v2.90h-2.90ZM445.25 265.45h2.90v2.90h-2.90ZM449.05 265.45h2.90v2.90h-2.90ZM452.85 265.45h2.90v2.90h-2.90ZM456.75 265.45h2.90v2.90h-2.90ZM460.55 265.45h2.90v2.90h-2.90ZM464.45 265.45h2.90v2.90h-2.90ZM468.25 265.45h2.90v2.90h-2.90ZM472.05 265.45h2.90v2.90h-2.90ZM429.95 267.25h2.90v2.90h-2.90ZM433.75 267.25h2.90v2.90h-2.90ZM437.55 267.25h2.90v2.90h-2.90ZM460.55 267.25h2.90v2.90h-2.90ZM468.25 267.25h2.90v2.90h-2.90ZM472.05 267.25h2.90v2.90h-2.90ZM441.45 268.95h2.90v2.90h-2.90ZM445.25 268.95h2.90v2.90h-2.90ZM464.45 268.95h2.90v2.90h-2.90ZM449.05 270.15h2.90v2.90h-2.90ZM452.95 270.65h2.90v2.90h-2.90ZM456.75 270.65h2.90v2.90h-2.90ZM441.45 271.75h2.90v2.90h-2.90ZM464.45 271.75h2.90v2.90h-2.90ZM445.25 272.75h2.90v2.90h-2.90ZM460.55 273.65h2.90v2.90h-2.90ZM449.05 274.05h2.90v2.90h-2.90ZM452.85 275.05h2.90v2.90h-2.90ZM456.75 275.05h2.90v2.90h-2.90ZM437.55 276.25h2.90v2.90h-2.90ZM441.45 276.95h2.90v2.90h-2.90ZM464.45 276.95h2.90v2.90h-2.90ZM456.75 278.55h2.90v2.90h-2.90ZM460.55 278.55h2.90v2.90h-2.90ZM445.25 278.95h2.90v2.90h-2.90ZM449.05 280.35h2.90v2.90h-2.90ZM452.85 280.35h2.90v2.90h-2.90ZM452.85 285.05h2.90v2.90h-2.90Z" fill="#000"/>
<line x1="422.20" y1="263.40" x2="486.00" y2="263.40" stroke="#000" stroke-width="1.6"/>
<path d="M94.52 393.95L95.77 391.75L97.02 393.95ZM97.98 393.95L99.23 391.75L100.48 393.95ZM91.29 397.87L92.54 395.67L93.79 397.87ZM94.52 397.87L95.77 395.67L97.02 397.87ZM91.29 401.68L92.54 399.48L93.79 401.68ZM94.52 404.33L95.77 402.13L97.02 404.33ZM97.98 404.33L99.23 402.13L100.48 404.33ZM87.83 406.64L89.08 404.44L90.33 406.64ZM97.98 406.64L99.23 404.44L100.48 406.64ZM91.29 408.60L92.54 406.40L93.79 408.60ZM94.52 408.60L95.77 406.40L97.02 408.60ZM87.83 410.56L89.08 408.36L90.33 410.56ZM104.56 410.56L105.81 408.36L107.06 410.56ZM91.29 412.87L92.54 410.67L93.79 412.87ZM94.52 412.87L95.77 410.67L97.02 412.87ZM97.98 412.87L99.23 410.67L100.48 412.87ZM101.21 412.87L102.46 410.67L103.71 412.87ZM97.98 414.72L99.23 412.52L100.48 414.72ZM91.29 417.02L92.54 414.82L93.79 417.02ZM94.52 417.02L95.77 414.82L97.02 417.02ZM91.29 420.95L92.54 418.75L93.79 420.95ZM94.52 420.95L95.77 418.75L97.02 420.95ZM97.98 420.95L99.23 418.75L100.48 420.95ZM84.60 423.25L85.85 421.05L87.10 423.25ZM101.21 423.25L102.46 421.05L103.71 423.25ZM104.56 423.25L105.81 421.05L107.06 423.25ZM87.83 425.33L89.08 423.13L90.33 425.33ZM91.29 425.33L92.54 423.13L93.79 425.33ZM94.52 425.33L95.77 423.13L97.02 425.33ZM97.98 425.33L99.23 423.13L100.48 425.33ZM84.60 427.41L85.85 425.21L87.10 427.41ZM87.83 427.41L89.08 425.21L90.33 427.41ZM104.56 427.41L105.81 425.21L107.06 427.41ZM107.90 427.41L109.15 425.21L110.40 427.41ZM91.29 429.72L92.54 427.52L93.79 429.72ZM94.52 429.72L95.77 427.52L97.02 429.72ZM97.98 429.72L99.23 427.52L100.48 429.72ZM101.21 429.72L102.46 427.52L103.71 429.72ZM101.21 431.68L102.46 429.48L103.71 431.68ZM87.83 433.64L89.08 431.44L90.33 433.64ZM91.29 433.64L92.54 431.44L93.79 433.64ZM94.52 433.64L95.77 431.44L97.02 433.64ZM97.98 433.64L99.23 431.44L100.48 433.64ZM77.67 435.95L78.92 433.75L80.17 435.95ZM81.13 435.95L82.38 433.75L83.63 435.95ZM84.60 435.95L85.85 433.75L87.10 435.95ZM87.83 435.95L89.08 433.75L90.33 435.95ZM104.56 435.95L105.81 433.75L107.06 435.95ZM107.90 435.95L109.15 433.75L110.40 435.95ZM111.25 435.95L112.50 433.75L113.75 435.95ZM91.29 438.02L92.54 435.82L93.79 438.02ZM94.52 438.02L95.77 435.82L97.02 438.02ZM97.98 438.02L99.23 435.82L100.48 438.02ZM101.21 438.02L102.46 435.82L103.71 438.02ZM81.13 440.10L82.38 437.90L83.63 440.10ZM84.60 440.10L85.85 437.90L87.10 440.10ZM87.83 440.10L89.08 437.90L90.33 440.10ZM101.21 440.10L102.46 437.90L103.71 440.10ZM104.56 440.10L105.81 437.90L107.06 440.10ZM91.29 442.41L92.54 440.21L93.79 442.41ZM94.52 442.41L95.77 440.21L97.02 442.41ZM97.98 442.41L99.23 440.21L100.48 442.41ZM77.67 444.72L78.92 442.52L80.17 444.72ZM81.13 444.72L82.38 442.52L83.63 444.72ZM84.60 444.72L85.85 442.52L87.10 444.72ZM107.90 444.72L109.15 442.52L110.40 444.72ZM111.25 444.72L112.50 442.52L113.75 444.72ZM87.83 446.45L89.08 444.25L90.33 446.45ZM91.29 446.45L92.54 444.25L93.79 446.45ZM94.52 446.45L95.77 444.25L97.02 446.45ZM97.98 446.45L99.23 444.25L100.48 446.45ZM101.21 446.45L102.46 444.25L103.71 446.45ZM104.56 446.45L105.81 444.25L107.06 446.45ZM74.56 448.98L75.81 446.78L77.06 448.98ZM77.67 448.98L78.92 446.78L80.17 448.98ZM81.13 448.98L82.38 446.78L83.63 448.98ZM107.90 448.98L109.15 446.78L110.40 448.98ZM111.25 448.98L112.50 446.78L113.75 448.98ZM114.60 448.98L115.85 446.78L117.10 448.98ZM84.60 450.72L85.85 448.52L87.10 450.72ZM87.83 450.72L89.08 448.52L90.33 450.72ZM91.29 450.72L92.54 448.52L93.79 450.72ZM94.52 450.72L95.77 448.52L97.02 450.72ZM97.98 450.72L99.23 448.52L100.48 450.72ZM101.21 450.72L102.46 448.52L103.71 450.72ZM104.56 450.72L105.81 448.52L107.06 450.72ZM91.29 452.45L92.54 450.25L93.79 452.45ZM94.52 452.45L95.77 450.25L97.02 452.45ZM97.98 452.45L99.23 450.25L100.48 452.45ZM101.21 452.45L102.46 450.25L103.71 452.45ZM94.52 455.33L95.77 453.13L97.02 455.33ZM87.83 459.37L89.08 457.17L90.33 459.37ZM91.29 459.37L92.54 457.17L93.79 459.37ZM94.52 459.37L95.77 457.17L97.02 459.37ZM97.98 459.37L99.23 457.17L100.48 459.37ZM94.52 463.98L95.77 461.78L97.02 463.98ZM94.52 470.10L95.77 467.90L97.02 470.10ZM97.98 472.06L99.23 469.86L100.48 472.06ZM94.52 474.37L95.77 472.17L97.02 474.37ZM94.52 478.41L95.77 476.21L97.02 478.41ZM97.98 484.75L99.23 482.55L100.48 484.75ZM94.52 487.10L95.77 484.90L97.02 487.10Z" fill="#000"/>
<line x1="61.80" y1="436.70" x2="129.60" y2="436.70" stroke="#444" stroke-width="1.6"/>
<path d="M195.21 405.90h2.50v2.50h-2.50ZM195.21 413.98h2.50v2.50h-2.50ZM191.98 416.29h2.50v2.50h-2.50ZM201.67 416.29h2.50v2.50h-2.50ZM195.21 418.60h2.50v2.50h-2.50ZM198.44 418.60h2.50v2.50h-2.50ZM185.29 422.75h2.50v2.50h-2.50ZM188.52 422.75h2.50v2.50h-2.50ZM191.98 422.75h2.50v2.50h-2.50ZM195.21 422.75h2.50v2.50h-2.50ZM198.44 422.75h2.50v2.50h-2.50ZM201.67 422.75h2.50v2.50h-2.50ZM188.52 424.71h2.50v2.50h-2.50ZM201.67 424.71h2.50v2.50h-2.50ZM191.98 426.67h2.50v2.50h-2.50ZM195.21 426.67h2.50v2.50h-2.50ZM198.44 426.67h2.50v2.50h-2.50ZM178.60 429.33h2.50v2.50h-2.50ZM182.06 429.33h2.50v2.50h-2.50ZM205.13 429.33h2.50v2.50h-2.50ZM208.37 429.33h2.50v2.50h-2.50ZM185.29 431.06h2.50v2.50h-2.50ZM188.52 431.06h2.50v2.50h-2.50ZM191.98 431.06h2.50v2.50h-2.50ZM195.21 431.06h2.50v2.50h-2.50ZM198.44 431.06h2.50v2.50h-2.50ZM201.67 431.06h2.50v2.50h-2.50ZM171.90 433.13h2.50v2.50h-2.50ZM175.37 433.13h2.50v2.50h-2.50ZM178.60 433.13h2.50v2.50h-2.50ZM182.06 433.13h2.50v2.50h-2.50ZM185.29 433.13h2.50v2.50h-2.50ZM208.37 433.13h2.50v2.50h-2.50ZM211.83 433.13h2.50v2.50h-2.50ZM215.06 433.13h2.50v2.50h-2.50ZM218.29 433.13h2.50v2.50h-2.50ZM221.75 433.13h2.50v2.50h-2.50ZM188.52 435.44h2.50v2.50h-2.50ZM191.98 435.44h2.50v2.50h-2.50ZM195.21 435.44h2.50v2.50h-2.50ZM198.44 435.44h2.50v2.50h-2.50ZM201.67 435.44h2.50v2.50h-2.50ZM205.13 435.44h2.50v2.50h-2.50ZM165.21 437.75h2.50v2.50h-2.50ZM168.44 437.75h2.50v2.50h-2.50ZM171.90 437.75h2.50v2.50h-2.50ZM175.37 437.75h2.50v2.50h-2.50ZM178.60 437.75h2.50v2.50h-2.50ZM182.06 437.75h2.50v2.50h-2.50ZM185.29 437.75h2.50v2.50h-2.50ZM188.52 437.75h2.50v2.50h-2.50ZM191.98 437.75h2.50v2.50h-2.50ZM195.21 437.75h2.50v2.50h-2.50ZM198.44 437.75h2.50v2.50h-2.50ZM201.67 437.75h2.50v2.50h-2.50ZM205.13 437.75h2.50v2.50h-2.50ZM208.37 437.75h2.50v2.50h-2.50ZM211.83 437.75h2.50v2.50h-2.50ZM215.06 437.75h2.50v2.50h-2.50ZM218.29 437.75h2.50v2.50h-2.50ZM221.75 437.75h2.50v2.50h-2.50ZM178.60 439.71h2.50v2.50h-2.50ZM182.06 439.71h2.50v2.50h-2.50ZM185.29 439.71h2.50v2.50h-2.50ZM188.52 439.71h2.50v2.50h-2.50ZM191.98 439.71h2.50v2.50h-2.50ZM195.21 439.71h2.50v2.50h-2.50ZM198.44 439.71h2.50v2.50h-2.50ZM201.67 439.71h2.50v2.50h-2.50ZM205.13 439.71h2.50v2.50h-2.50ZM208.37 439.71h2.50v2.50h-2.50ZM171.90 442.02h2.50v2.50h-2.50ZM175.37 442.02h2.50v2.50h-2.50ZM178.60 442.02h2.50v2.50h-2.50ZM182.06 442.02h2.50v2.50h-2.50ZM185.29 442.02h2.50v2.50h-2.50ZM188.52 442.02h2.50v2.50h-2.50ZM205.13 442.02h2.50v2.50h-2.50ZM208.37 442.02h2.50v2.50h-2.50ZM211.83 442.02h2.50v2.50h-2.50ZM218.29 442.02h2.50v2.50h-2.50ZM191.98 443.75h2.50v2.50h-2.50ZM195.21 443.75h2.50v2.50h-2.50ZM198.44 443.75h2.50v2.50h-2.50ZM201.67 443.75h2.50v2.50h-2.50ZM171.90 446.06h2.50v2.50h-2.50ZM175.37 446.06h2.50v2.50h-2.50ZM178.60 446.06h2.50v2.50h-2.50ZM208.37 446.06h2.50v2.50h-2.50ZM211.83 446.06h2.50v2.50h-2.50ZM215.06 446.06h2.50v2.50h-2.50ZM182.06 448.37h2.50v2.50h-2.50ZM185.29 448.37h2.50v2.50h-2.50ZM188.52 448.37h2.50v2.50h-2.50ZM191.98 448.37h2.50v2.50h-2.50ZM195.21 448.37h2.50v2.50h-2.50ZM198.44 448.37h2.50v2.50h-2.50ZM201.67 448.37h2.50v2.50h-2.50ZM205.13 448.37h2.50v2.50h-2.50ZM191.98 450.10h2.50v2.50h-2.50ZM201.67 450.10h2.50v2.50h-2.50ZM195.21 452.40h2.50v2.50h-2.50ZM198.44 452.40h2.50v2.50h-2.50ZM188.52 454.33h2.50v2.50h-2.50ZM191.98 454.33h2.50v2.50h-2.50ZM198.44 454.33h2.50v2.50h-2.50ZM195.21 456.98h2.50v2.50h-2.50ZM195.21 467.37h2.50v2.50h-2.50Z" fill="#000"/>
<line x1="162.20" y1="439.00" x2="230.00" y2="439.00" stroke="#333" stroke-width="1.6"/>
<path d="M358.37 394.87L359.77 392.37L361.17 394.87ZM362.06 411.83L363.46 409.33L364.86 411.83ZM358.37 413.90L359.77 411.40L361.17 413.90ZM358.37 426.83L359.77 424.33L361.17 426.83ZM369.56 438.37L370.96 435.87L372.36 438.37ZM350.52 439.17L351.92 436.67L353.32 439.17ZM354.22 440.67L355.62 438.17L357.02 440.67ZM365.87 440.67L367.27 438.17L368.67 440.67ZM358.37 441.83L359.77 439.33L361.17 441.83ZM362.06 441.83L363.46 439.33L364.86 441.83ZM350.52 443.56L351.92 441.06L353.32 443.56ZM362.06 444.71L363.46 442.21L364.86 444.71ZM354.22 446.44L355.62 443.94L357.02 446.44ZM358.37 447.02L359.77 444.52L361.17 447.02ZM350.52 450.48L351.92 447.98L353.32 450.48ZM365.87 450.48L367.27 447.98L368.67 450.48ZM354.22 451.06L355.62 448.56L357.02 451.06ZM358.37 451.06L359.77 448.56L361.17 451.06ZM362.06 451.06L363.46 448.56L364.86 451.06ZM338.98 453.02L340.38 450.52L341.78 453.02ZM342.68 453.02L344.08 450.52L345.48 453.02ZM373.60 453.02L375.00 450.52L376.40 453.02ZM377.41 453.02L378.81 450.52L380.21 453.02ZM346.48 453.94L347.88 451.44L349.28 453.94ZM369.56 453.94L370.96 451.44L372.36 453.94ZM350.52 454.87L351.92 452.37L353.32 454.87ZM354.22 454.87L355.62 452.37L357.02 454.87ZM358.37 454.87L359.77 452.37L361.17 454.87ZM362.06 454.87L363.46 452.37L364.86 454.87ZM365.87 454.87L367.27 452.37L368.67 454.87ZM335.18 456.83L336.58 454.33L337.98 456.83ZM381.45 456.83L382.85 454.33L384.25 456.83ZM338.98 457.40L340.38 454.90L341.78 457.40ZM373.60 457.40L375.00 454.90L376.40 457.40ZM377.41 457.40L378.81 454.90L380.21 457.40ZM342.68 458.56L344.08 456.06L345.48 458.56ZM346.48 458.56L347.88 456.06L349.28 458.56ZM350.52 458.56L351.92 456.06L353.32 458.56ZM365.87 458.56L367.27 456.06L368.67 458.56ZM369.56 458.56L370.96 456.06L372.36 458.56ZM354.22 460.29L355.62 457.79L357.02 460.29ZM358.37 460.29L359.77 457.79L361.17 460.29ZM362.06 460.29L363.46 457.79L364.86 460.29ZM342.68 462.25L344.08 459.75L345.48 462.25ZM373.60 462.25L375.00 459.75L376.40 462.25ZM346.48 463.75L347.88 461.25L349.28 463.75ZM350.52 463.75L351.92 461.25L353.32 463.75ZM354.22 463.75L355.62 461.25L357.02 463.75ZM358.37 463.75L359.77 461.25L361.17 463.75ZM362.06 463.75L363.46 461.25L364.86 463.75ZM365.87 463.75L367.27 461.25L368.67 463.75ZM369.56 463.75L370.96 461.25L372.36 463.75ZM358.00 461.55L359.40 459.05L360.80 461.55ZM361.80 461.55L363.20 459.05L364.60 461.55ZM342.60 462.25L344.00 459.75L345.40 462.25ZM369.70 463.45L371.10 460.95L372.50 463.45ZM346.50 463.95L347.90 461.45L349.30 463.95ZM350.50 463.95L351.90 461.45L353.30 463.95ZM361.80 463.95L363.20 461.45L364.60 463.95ZM365.80 463.95L367.20 461.45L368.60 463.95ZM354.40 464.85L355.80 462.35L357.20 464.85ZM327.30 466.15L328.70 463.65L330.10 466.15ZM358.10 466.15L359.50 463.65L360.90 466.15ZM331.20 467.35L332.60 464.85L334.00 467.35ZM381.10 467.35L382.50 464.85L383.90 467.35ZM384.80 467.35L386.20 464.85L387.60 467.35ZM388.60 467.35L390.00 464.85L391.40 467.35ZM335.00 467.75L336.40 465.25L337.80 467.75ZM338.70 468.15L340.10 465.65L341.50 468.15ZM342.60 468.65L344.00 466.15L345.40 468.65ZM346.50 468.65L347.90 466.15L349.30 468.65ZM350.50 468.65L351.90 466.15L353.30 468.65ZM361.80 468.65L363.20 466.15L364.60 468.65ZM365.80 468.65L367.20 466.15L368.60 468.65ZM369.70 468.65L371.10 466.15L372.50 468.65ZM373.60 468.65L375.00 466.15L376.40 468.65ZM377.40 468.65L378.80 466.15L380.20 468.65ZM354.40 469.35L355.80 466.85L357.20 469.35ZM358.10 469.35L359.50 466.85L360.90 469.35ZM335.00 471.05L336.40 468.55L337.80 471.05ZM338.70 471.05L340.10 468.55L341.50 471.05ZM373.60 471.45L375.00 468.95L376.40 471.45ZM377.40 471.45L378.80 468.95L380.20 471.45ZM342.60 472.05L344.00 469.55L345.40 472.05ZM346.50 472.05L347.90 469.55L349.30 472.05ZM365.80 472.55L367.20 470.05L368.60 472.55ZM369.70 472.55L371.10 470.05L372.50 472.55ZM350.50 473.55L351.90 471.05L353.30 473.55ZM354.40 473.55L355.80 471.05L357.20 473.55ZM358.10 473.55L359.50 471.05L360.90 473.55ZM361.80 473.55L363.20 471.05L364.60 473.55ZM342.60 474.95L344.00 472.45L345.40 474.95ZM373.60 474.95L375.00 472.45L376.40 474.95ZM377.40 474.95L378.80 472.45L380.20 474.95ZM346.50 476.75L347.90 474.25L349.30 476.75ZM350.50 476.75L351.90 474.25L353.30 476.75ZM365.80 476.75L367.20 474.25L368.60 476.75ZM369.70 476.75L371.10 474.25L372.50 476.75ZM354.40 477.35L355.80 474.85L357.20 477.35ZM358.10 478.15L359.50 475.65L360.90 478.15ZM361.80 478.15L363.20 475.65L364.60 478.15ZM346.50 479.85L347.90 477.35L349.30 479.85ZM365.80 479.85L367.20 477.35L368.60 479.85ZM369.70 479.85L371.10 477.35L372.50 479.85ZM350.50 480.85L351.90 478.35L353.30 480.85ZM361.80 480.85L363.20 478.35L364.60 480.85ZM354.40 482.15L355.80 479.65L357.20 482.15ZM358.10 483.55L359.50 481.05L360.90 483.55ZM361.80 488.05L363.20 485.55L364.60 488.05ZM358.10 489.65L359.50 487.15L360.90 489.65Z" fill="#000"/>
<line x1="327.30" y1="464.10" x2="392.00" y2="464.10" stroke="#222" stroke-width="1.5"/>
<path d="M454.20 405.30h2.80v2.80h-2.80ZM454.20 415.30h2.80v2.80h-2.80ZM454.20 422.30h2.80v2.80h-2.80ZM450.50 424.70h2.80v2.80h-2.80ZM454.30 427.90h2.80v2.80h-2.80ZM442.80 430.10h2.80v2.80h-2.80ZM469.70 430.10h2.80v2.80h-2.80ZM446.60 432.10h2.80v2.80h-2.80ZM465.70 432.10h2.80v2.80h-2.80ZM450.50 432.90h2.80v2.80h-2.80ZM461.90 432.90h2.80v2.80h-2.80ZM454.30 433.50h2.80v2.80h-2.80ZM458.00 433.50h2.80v2.80h-2.80ZM438.80 436.80h2.80v2.80h-2.80ZM469.70 436.80h2.80v2.80h-2.80ZM442.80 437.70h2.80v2.80h-2.80ZM446.60 437.70h2.80v2.80h-2.80ZM461.90 437.70h2.80v2.80h-2.80ZM465.70 437.70h2.80v2.80h-2.80ZM450.50 439.10h2.80v2.80h-2.80ZM458.00 439.10h2.80v2.80h-2.80ZM454.30 439.50h2.80v2.80h-2.80ZM423.30 440.40h2.80v2.80h-2.80ZM427.30 440.40h2.80v2.80h-2.80ZM431.40 440.40h2.80v2.80h-2.80ZM481.20 440.40h2.80v2.80h-2.80ZM485.20 440.40h2.80v2.80h-2.80ZM435.20 441.00h2.80v2.80h-2.80ZM477.40 441.00h2.80v2.80h-2.80ZM438.80 441.70h2.80v2.80h-2.80ZM442.80 441.70h2.80v2.80h-2.80ZM469.70 441.70h2.80v2.80h-2.80ZM473.50 441.70h2.80v2.80h-2.80ZM446.60 442.50h2.80v2.80h-2.80ZM461.90 442.50h2.80v2.80h-2.80ZM465.70 442.50h2.80v2.80h-2.80ZM450.50 443.20h2.80v2.80h-2.80ZM458.00 443.20h2.80v2.80h-2.80ZM454.30 443.80h2.80v2.80h-2.80ZM423.30 445.00h2.80v2.80h-2.80ZM427.30 445.00h2.80v2.80h-2.80ZM431.40 445.00h2.80v2.80h-2.80ZM435.20 445.00h2.80v2.80h-2.80ZM438.80 445.00h2.80v2.80h-2.80ZM442.80 445.00h2.80v2.80h-2.80ZM446.60 445.00h2.80v2.80h-2.80ZM450.50 445.00h2.80v2.80h-2.80ZM454.30 445.00h2.80v2.80h-2.80ZM458.00 445.00h2.80v2.80h-2.80ZM461.90 445.00h2.80v2.80h-2.80ZM465.70 445.00h2.80v2.80h-2.80ZM469.70 445.00h2.80v2.80h-2.80ZM473.50 445.00h2.80v2.80h-2.80ZM477.40 445.00h2.80v2.80h-2.80ZM481.20 445.00h2.80v2.80h-2.80ZM485.20 445.00h2.80v2.80h-2.80ZM423.30 448.50h2.80v2.80h-2.80ZM427.30 448.50h2.80v2.80h-2.80ZM431.40 448.50h2.80v2.80h-2.80ZM435.20 448.50h2.80v2.80h-2.80ZM438.80 448.50h2.80v2.80h-2.80ZM442.80 448.50h2.80v2.80h-2.80ZM446.60 448.50h2.80v2.80h-2.80ZM450.50 448.50h2.80v2.80h-2.80ZM454.30 448.50h2.80v2.80h-2.80ZM458.00 448.50h2.80v2.80h-2.80ZM461.90 448.50h2.80v2.80h-2.80ZM465.70 448.50h2.80v2.80h-2.80ZM469.70 448.50h2.80v2.80h-2.80ZM473.50 448.50h2.80v2.80h-2.80ZM477.40 448.50h2.80v2.80h-2.80ZM481.20 448.50h2.80v2.80h-2.80ZM485.20 448.50h2.80v2.80h-2.80ZM427.30 451.90h2.80v2.80h-2.80ZM431.40 451.90h2.80v2.80h-2.80ZM435.20 451.90h2.80v2.80h-2.80ZM473.50 451.90h2.80v2.80h-2.80ZM477.40 451.90h2.80v2.80h-2.80ZM438.80 452.90h2.80v2.80h-2.80ZM469.70 452.90h2.80v2.80h-2.80ZM442.80 453.80h2.80v2.80h-2.80ZM465.70 453.80h2.80v2.80h-2.80ZM446.60 454.90h2.80v2.80h-2.80ZM461.90 454.90h2.80v2.80h-2.80ZM450.50 456.60h2.80v2.80h-2.80ZM454.30 456.60h2.80v2.80h-2.80ZM458.00 456.60h2.80v2.80h-2.80ZM450.50 459.30h2.80v2.80h-2.80ZM458.00 460.60h2.80v2.80h-2.80ZM454.30 461.30h2.80v2.80h-2.80ZM458.00 464.00h2.80v2.80h-2.80ZM450.50 465.10h2.80v2.80h-2.80ZM454.30 467.70h2.80v2.80h-2.80ZM458.00 472.30h2.80v2.80h-2.80ZM454.30 473.70h2.80v2.80h-2.80Z" fill="#000"/>
<line x1="422.70" y1="446.50" x2="487.30" y2="446.50" stroke="#000" stroke-width="1.6"/>
<path d="M216.25 562.20L217.60 559.80L218.95 562.20ZM216.25 583.70L217.60 581.30L218.95 583.70ZM216.25 591.40L217.60 589.00L218.95 591.40ZM219.95 592.50L221.30 590.10L222.65 592.50ZM216.25 595.30L217.60 592.90L218.95 595.30ZM212.55 600.20L213.90 597.80L215.25 600.20ZM216.25 600.20L217.60 597.80L218.95 600.20ZM219.95 600.20L221.30 597.80L222.65 600.20ZM212.55 602.90L213.90 600.50L215.25 602.90ZM219.95 602.90L221.30 600.50L222.65 602.90ZM223.75 602.90L225.10 600.50L226.45 602.90ZM216.25 604.90L217.60 602.50L218.95 604.90ZM212.45 609.70L213.80 607.30L215.15 609.70ZM216.25 609.70L217.60 607.30L218.95 609.70ZM219.85 609.70L221.20 607.30L222.55 609.70ZM205.25 612.50L206.60 610.10L207.95 612.50ZM227.05 612.50L228.40 610.10L229.75 612.50ZM230.65 612.50L232.00 610.10L233.35 612.50ZM208.85 613.40L210.20 611.00L211.55 613.40ZM223.45 614.30L224.80 611.90L226.15 614.30ZM212.45 614.80L213.80 612.40L215.15 614.80ZM216.15 614.80L217.50 612.40L218.85 614.80ZM219.85 614.80L221.20 612.40L222.55 614.80ZM194.15 617.00L195.50 614.60L196.85 617.00ZM197.75 617.50L199.10 615.10L200.45 617.50ZM234.45 617.50L235.80 615.10L237.15 617.50ZM201.25 618.70L202.60 616.30L203.95 618.70ZM205.25 618.70L206.60 616.30L207.95 618.70ZM227.05 618.70L228.40 616.30L229.75 618.70ZM230.65 618.70L232.00 616.30L233.35 618.70ZM208.85 619.50L210.20 617.10L211.55 619.50ZM223.45 619.50L224.80 617.10L226.15 619.50ZM212.45 620.10L213.80 617.70L215.15 620.10ZM216.05 620.10L217.40 617.70L218.75 620.10ZM219.85 620.10L221.20 617.70L222.55 620.10ZM186.95 621.00L188.30 618.60L189.65 621.00ZM190.55 621.00L191.90 618.60L193.25 621.00ZM194.15 621.00L195.50 618.60L196.85 621.00ZM197.75 621.00L199.10 618.60L200.45 621.00ZM238.15 621.30L239.50 618.90L240.85 621.30ZM241.75 621.30L243.10 618.90L244.45 621.30ZM245.35 621.30L246.70 618.90L248.05 621.30ZM201.25 622.40L202.60 620.00L203.95 622.40ZM205.25 622.40L206.60 620.00L207.95 622.40ZM208.85 622.40L210.20 620.00L211.55 622.40ZM227.05 622.40L228.40 620.00L229.75 622.40ZM230.65 622.40L232.00 620.00L233.35 622.40ZM234.45 622.40L235.80 620.00L237.15 622.40ZM194.15 624.40L195.50 622.00L196.85 624.40ZM197.75 624.40L199.10 622.00L200.45 624.40ZM216.25 624.40L217.60 622.00L218.95 624.40ZM219.85 624.40L221.20 622.00L222.55 624.40ZM234.45 625.20L235.80 622.80L237.15 625.20ZM230.65 625.90L232.00 623.50L233.35 625.90ZM201.25 626.50L202.60 624.10L203.95 626.50ZM205.25 626.50L206.60 624.10L207.95 626.50ZM223.45 626.80L224.80 624.40L226.15 626.80ZM227.05 626.80L228.40 624.40L229.75 626.80ZM208.85 628.10L210.20 625.70L211.55 628.10ZM216.05 628.10L217.40 625.70L218.75 628.10ZM212.45 628.60L213.80 626.20L215.15 628.60ZM219.85 628.60L221.20 626.20L222.55 628.60ZM186.95 629.80L188.30 627.40L189.65 629.80ZM190.55 629.80L191.90 627.40L193.25 629.80ZM194.15 629.80L195.50 627.40L196.85 629.80ZM197.75 629.80L199.10 627.40L200.45 629.80ZM234.45 630.10L235.80 627.70L237.15 630.10ZM238.15 630.10L239.50 627.70L240.85 630.10ZM241.75 630.10L243.10 627.70L244.45 630.10ZM245.35 630.10L246.70 627.70L248.05 630.10ZM201.25 631.40L202.60 629.00L203.95 631.40ZM205.25 631.40L206.60 629.00L207.95 631.40ZM227.05 631.40L228.40 629.00L229.75 631.40ZM230.65 631.40L232.00 629.00L233.35 631.40ZM208.85 632.10L210.20 629.70L211.55 632.10ZM212.45 632.10L213.80 629.70L215.15 632.10ZM216.25 632.10L217.60 629.70L218.95 632.10ZM219.85 632.10L221.20 629.70L222.55 632.10ZM223.45 632.10L224.80 629.70L226.15 632.10ZM205.25 633.70L206.60 631.30L207.95 633.70ZM208.85 635.70L210.20 633.30L211.55 635.70ZM212.45 635.70L213.80 633.30L215.15 635.70ZM216.05 635.70L217.40 633.30L218.75 635.70ZM219.85 635.70L221.20 633.30L222.55 635.70ZM223.45 635.70L224.80 633.30L226.15 635.70ZM205.25 637.20L206.60 634.80L207.95 637.20ZM216.25 637.20L217.60 634.80L218.95 637.20ZM227.05 637.20L228.40 634.80L229.75 637.20ZM208.85 638.30L210.20 635.90L211.55 638.30ZM223.45 638.90L224.80 636.50L226.15 638.90ZM212.45 639.80L213.80 637.40L215.15 639.80ZM216.25 639.80L217.60 637.40L218.95 639.80ZM219.85 639.80L221.20 637.40L222.55 639.80Z" fill="#000"/>
<line x1="187.00" y1="622.50" x2="249.00" y2="622.50" stroke="#111" stroke-width="1.4"/>
<path d="M307.30 577.00h2.60v2.60h-2.60ZM307.30 593.90h2.60v2.60h-2.60ZM307.20 607.60h2.60v2.60h-2.60ZM310.90 607.60h2.60v2.60h-2.60ZM296.30 609.20h2.60v2.60h-2.60ZM299.90 609.90h2.60v2.60h-2.60ZM314.50 609.90h2.60v2.60h-2.60ZM310.90 610.60h2.60v2.60h-2.60ZM303.50 611.20h2.60v2.60h-2.60ZM307.20 611.70h2.60v2.60h-2.60ZM292.70 612.80h2.60v2.60h-2.60ZM322.00 612.80h2.60v2.60h-2.60ZM325.60 612.80h2.60v2.60h-2.60ZM296.30 613.50h2.60v2.60h-2.60ZM299.90 614.60h2.60v2.60h-2.60ZM318.40 614.60h2.60v2.60h-2.60ZM303.50 615.40h2.60v2.60h-2.60ZM307.20 615.40h2.60v2.60h-2.60ZM310.90 615.40h2.60v2.60h-2.60ZM314.50 615.40h2.60v2.60h-2.60ZM278.30 616.50h2.60v2.60h-2.60ZM281.90 617.10h2.60v2.60h-2.60ZM285.50 617.10h2.60v2.60h-2.60ZM329.20 617.10h2.60v2.60h-2.60ZM332.80 617.10h2.60v2.60h-2.60ZM289.10 618.40h2.60v2.60h-2.60ZM292.70 618.40h2.60v2.60h-2.60ZM296.30 618.40h2.60v2.60h-2.60ZM299.90 618.40h2.60v2.60h-2.60ZM303.50 618.40h2.60v2.60h-2.60ZM307.20 618.40h2.60v2.60h-2.60ZM310.90 618.40h2.60v2.60h-2.60ZM314.50 618.40h2.60v2.60h-2.60ZM318.40 618.40h2.60v2.60h-2.60ZM322.00 618.40h2.60v2.60h-2.60ZM325.60 618.40h2.60v2.60h-2.60ZM278.30 621.00h2.60v2.60h-2.60ZM281.90 621.00h2.60v2.60h-2.60ZM285.50 621.00h2.60v2.60h-2.60ZM289.10 621.00h2.60v2.60h-2.60ZM292.70 621.00h2.60v2.60h-2.60ZM296.30 621.00h2.60v2.60h-2.60ZM299.90 621.00h2.60v2.60h-2.60ZM303.50 621.00h2.60v2.60h-2.60ZM307.20 621.00h2.60v2.60h-2.60ZM310.90 621.00h2.60v2.60h-2.60ZM314.50 621.00h2.60v2.60h-2.60ZM318.40 621.00h2.60v2.60h-2.60ZM322.00 621.00h2.60v2.60h-2.60ZM325.60 621.00h2.60v2.60h-2.60ZM329.20 621.00h2.60v2.60h-2.60ZM336.40 622.10h2.60v2.60h-2.60ZM278.30 624.50h2.60v2.60h-2.60ZM336.40 624.50h2.60v2.60h-2.60ZM281.90 625.20h2.60v2.60h-2.60ZM285.50 625.70h2.60v2.60h-2.60ZM289.10 625.70h2.60v2.60h-2.60ZM292.70 625.70h2.60v2.60h-2.60ZM296.30 625.70h2.60v2.60h-2.60ZM299.90 625.70h2.60v2.60h-2.60ZM325.60 625.70h2.60v2.60h-2.60ZM329.20 625.70h2.60v2.60h-2.60ZM332.80 625.70h2.60v2.60h-2.60ZM303.50 627.30h2.60v2.60h-2.60ZM307.20 627.30h2.60v2.60h-2.60ZM310.90 627.30h2.60v2.60h-2.60ZM314.50 627.30h2.60v2.60h-2.60ZM318.40 627.30h2.60v2.60h-2.60ZM322.00 627.30h2.60v2.60h-2.60ZM285.50 628.00h2.60v2.60h-2.60ZM289.10 628.00h2.60v2.60h-2.60ZM292.70 628.00h2.60v2.60h-2.60ZM325.60 628.00h2.60v2.60h-2.60ZM329.20 628.00h2.60v2.60h-2.60ZM332.80 628.00h2.60v2.60h-2.60ZM296.30 629.50h2.60v2.60h-2.60ZM299.90 629.50h2.60v2.60h-2.60ZM318.40 629.50h2.60v2.60h-2.60ZM322.00 629.50h2.60v2.60h-2.60ZM303.50 630.90h2.60v2.60h-2.60ZM307.20 630.90h2.60v2.60h-2.60ZM310.90 630.90h2.60v2.60h-2.60ZM314.50 630.90h2.60v2.60h-2.60Z" fill="#000"/>
<line x1="278.00" y1="622.40" x2="340.00" y2="622.40" stroke="#000" stroke-width="1.7"/>
</svg></body></html>
